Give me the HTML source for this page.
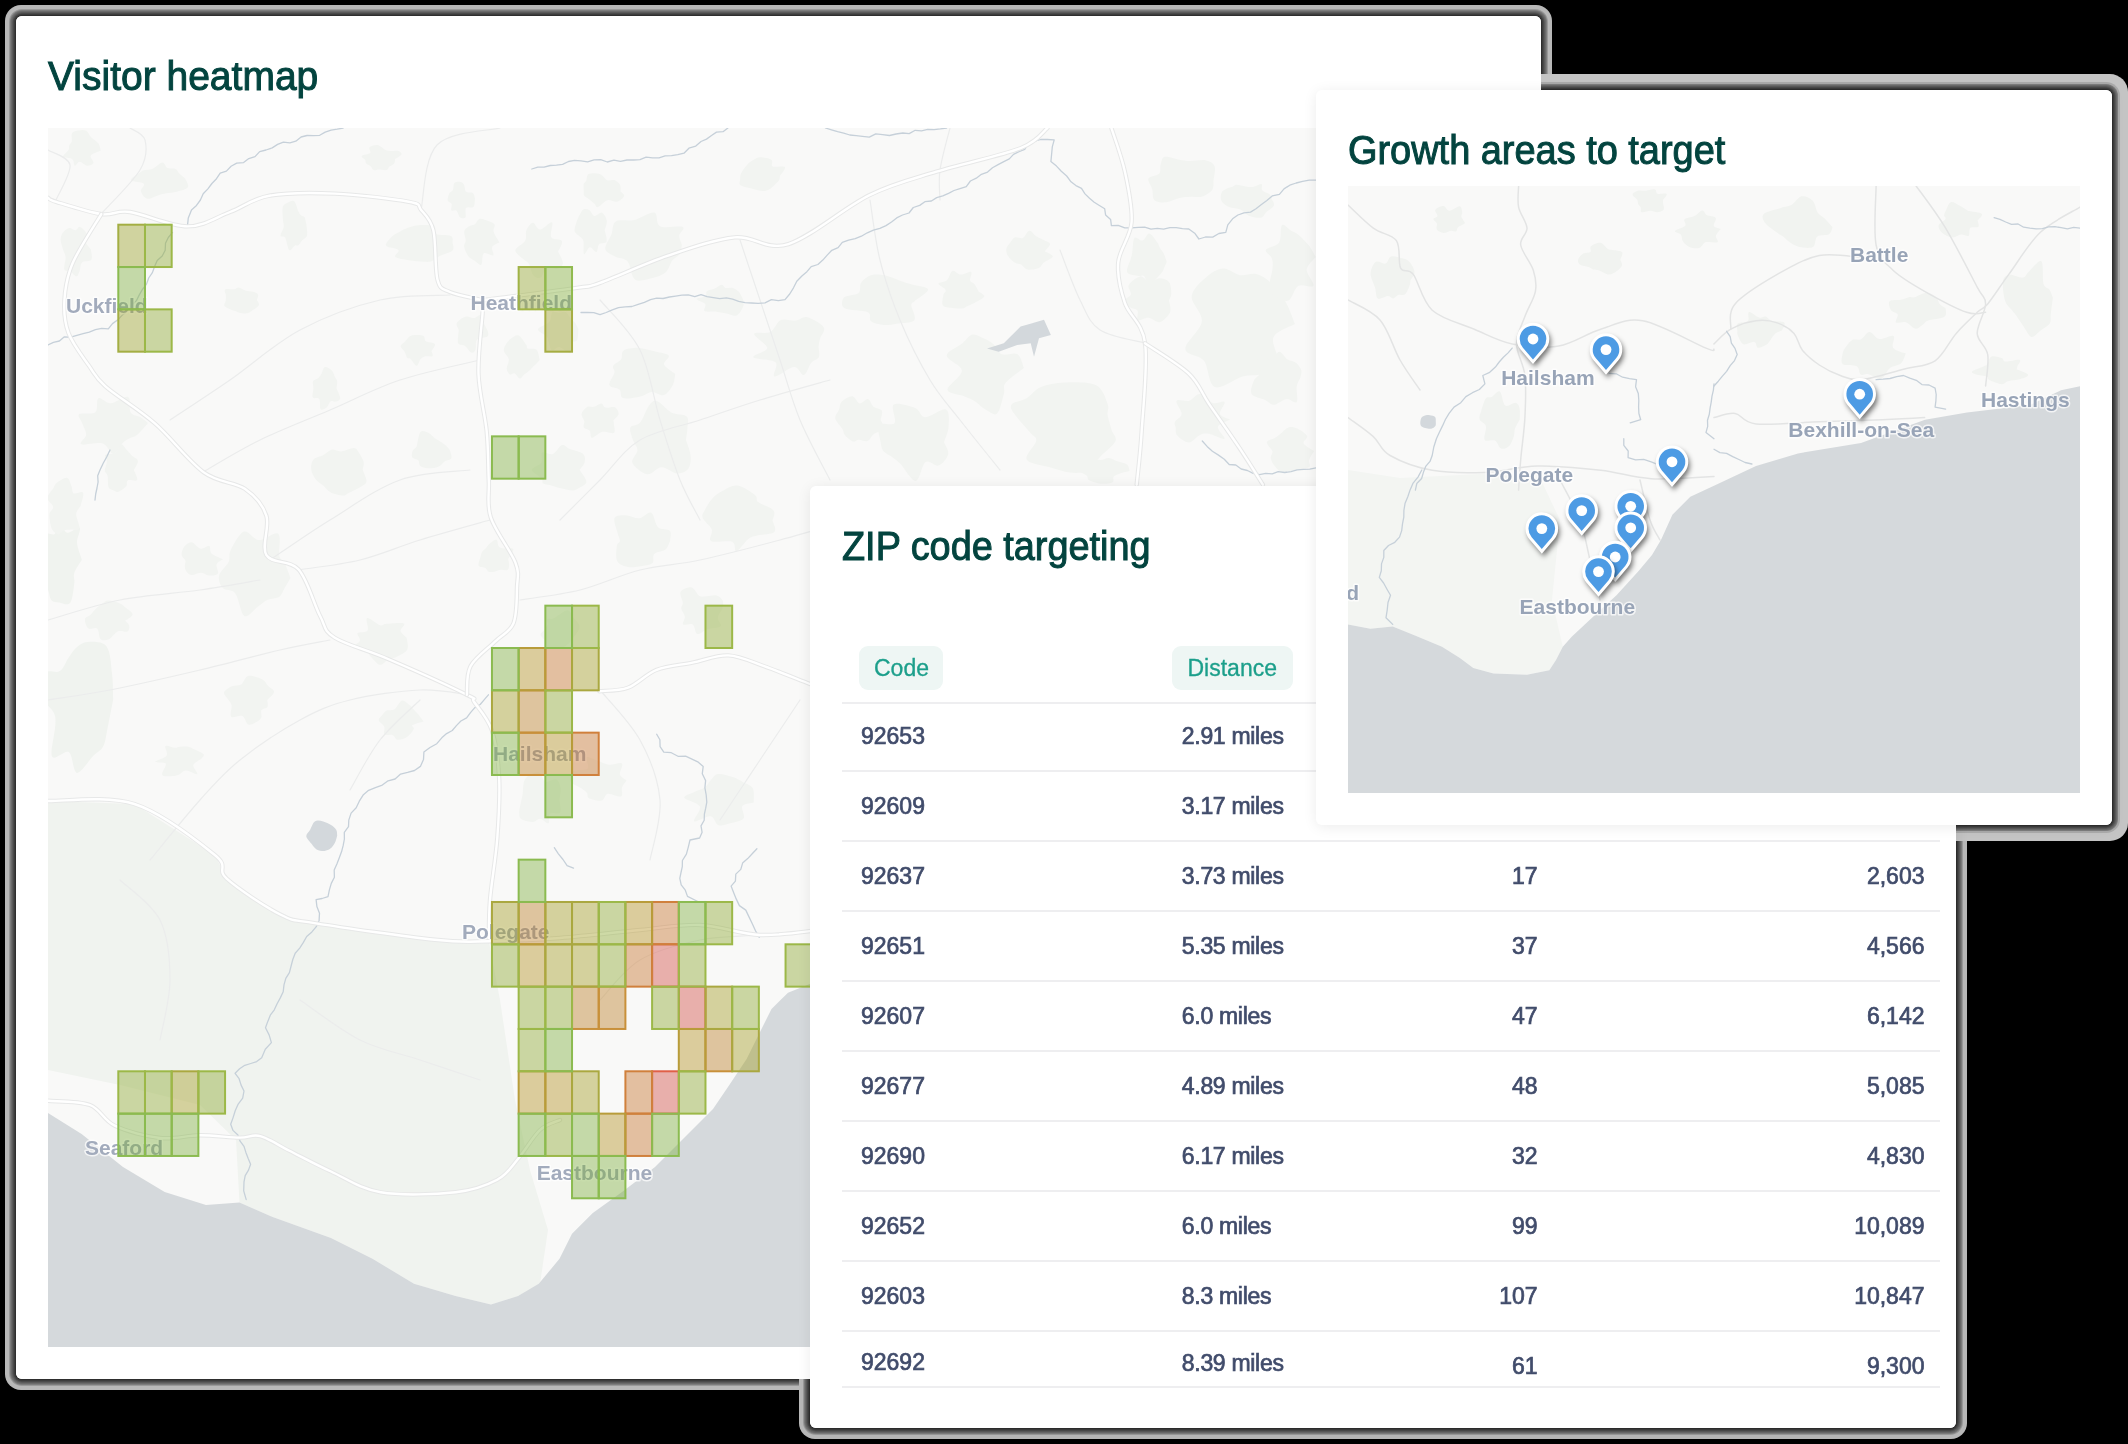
<!DOCTYPE html>
<html><head><meta charset="utf-8">
<style>
*{box-sizing:border-box;margin:0;padding:0}
html,body{width:2128px;height:1444px;overflow:hidden;background:#000}
body{position:relative;font-family:"Liberation Sans",sans-serif}
.ring{position:absolute;border-radius:6px;background:#fff}
.card{position:absolute;background:#fff;border-radius:6px;overflow:hidden;will-change:transform}
.title{position:absolute;font-size:40px;color:#03443f;white-space:nowrap;line-height:1;-webkit-text-stroke:1px #03443f}
.map{position:absolute;display:block}
.t{position:absolute;font-size:23px;color:#414c6b;white-space:nowrap;line-height:1;-webkit-text-stroke:0.7px #414c6b}
.r{text-align:right}
.hl{position:absolute;height:2px;background:#eeeef0}
.pill{position:absolute;background:#eef6f4;border-radius:9px;color:#1c9f8b;font-size:23px;line-height:1}
.lb,.lb1{font-family:"Liberation Sans",sans-serif;font-weight:bold;font-size:21px;fill:#95a1b5;stroke:#fff;stroke-width:3px;stroke-opacity:0.7;paint-order:stroke;stroke-linejoin:round}.lb1{fill:#a2abbc}.lb{fill:#98a4b7}
</style></head>
<body>
<!-- outer shadow rings (only visible over black) -->
<div class="ring" style="left:16px;top:16px;width:1525px;height:1363px;box-shadow:0 0 0 1px #2e2e2e,0 0 0 2px #3c3c3c,0 0 0 3px #4a4a4a,0 0 0 4px #5a5a5a,0 0 0 5px #6a6a6a,0 0 0 6px #7c7c7c,0 0 0 7px #999,0 0 0 11px #b8b8b8"></div>
<div class="ring" style="left:810px;top:486px;width:1146px;height:942px;box-shadow:0 0 0 1px #2e2e2e,0 0 0 2px #3c3c3c,0 0 0 3px #4a4a4a,0 0 0 4px #5a5a5a,0 0 0 5px #6a6a6a,0 0 0 6px #7c7c7c,0 0 0 7px #999,0 0 0 11px #b8b8b8"></div>
<div class="ring" style="left:1316px;top:90px;width:796px;height:735px;box-shadow:0 0 0 1px #2e2e2e,0 0 0 2px #3c3c3c,0 0 0 3px #4a4a4a,0 0 0 4px #5a5a5a,0 0 0 5px #6a6a6a,0 0 0 6px #7c7c7c,0 0 0 8px #aaa,0 0 0 16px #c4c4c4"></div>

<!-- CARD 1 -->
<div class="card" style="left:16px;top:16px;width:1525px;height:1363px">
  <div class="title" style="left:32px;top:40px;transform:scaleX(0.975);transform-origin:0 0">Visitor heatmap</div>
  <svg class="map" style="left:32px;top:112px" width="1461" height="1219" viewBox="48 128 1461 1219" id="map1">
    <rect x="48" y="128" width="1461" height="1219" fill="#f9f9f8"/>
    <path d="M48,801 L134.4,804 L214.8,855 L226.7,878.7 L280.3,914.5 L316,923.4 L435,939.8 L488.9,941.3 L500,1000 L515,1100 L530,1170 L548,1230 L540,1283.7 L518,1296 L491,1304.5 L455.6,1296 L414,1283.7 L372.5,1258.7 L331,1238 L272.7,1217 L239.5,1202.6 L236,1140 L200,1105 L120,1085 L48,1070 Z" fill="#f0f3ef"/>
<path d="M113.2,699.4 C112.3,704.1 109.2,720.1 107.6,727.9 C105.9,735.7 105.7,741.5 103.3,746.2 C100.8,750.9 97.5,751.6 93.1,756.1 C88.7,760.5 81.0,773.5 77.0,772.9 C72.9,772.2 73.0,754.9 68.8,752.1 C64.6,749.3 54.2,762.1 51.9,756.1 C49.6,750.0 57.7,726.2 54.9,715.6 C52.0,705.0 36.4,699.5 34.7,692.4 C33.1,685.2 40.7,676.3 44.9,672.8 C49.0,669.2 55.9,673.6 59.8,671.1 C63.8,668.6 65.8,661.7 68.6,657.8 C71.3,653.9 73.0,650.3 76.2,647.7 C79.4,645.1 82.7,642.2 87.8,642.0 C92.9,641.8 102.6,641.1 106.6,646.5 C110.7,651.9 111.0,665.7 112.1,674.5 C113.2,683.3 113.0,695.2 113.2,699.4 Z" fill="#f0f3ef"/>
<path d="M81.9,559.8 C80.6,562.0 75.6,569.0 74.3,573.0 C73.0,576.9 75.0,578.5 74.3,583.5 C73.6,588.5 72.6,599.8 70.1,603.0 C67.5,606.1 62.3,602.8 59.2,602.4 C56.1,602.0 53.3,602.5 51.4,600.3 C49.4,598.1 49.6,592.2 47.4,589.1 C45.1,586.1 39.6,586.2 37.7,582.1 C35.9,577.9 36.1,570.1 36.3,564.2 C36.4,558.3 37.1,551.5 38.8,546.5 C40.5,541.5 43.5,536.5 46.2,534.2 C49.0,532.0 53.5,537.0 55.5,533.0 C57.4,529.0 56.1,510.4 57.8,510.2 C59.5,510.1 62.2,529.2 65.8,532.1 C69.4,535.1 77.7,526.0 79.6,527.8 C81.5,529.6 76.6,537.4 77.0,542.7 C77.4,548.0 81.1,556.9 81.9,559.8 Z" fill="#f0f3ef"/>
<path d="M306.4,224.6 C306.5,226.5 307.7,233.1 307.0,235.7 C306.3,238.3 303.7,238.6 302.3,240.2 C300.8,241.8 299.5,244.4 298.3,245.3 C297.1,246.1 296.6,244.6 295.0,245.4 C293.5,246.2 290.8,251.4 289.2,250.1 C287.6,248.7 286.6,239.9 285.1,237.6 C283.7,235.2 280.7,237.5 280.5,235.7 C280.3,233.9 283.3,229.6 283.7,227.0 C284.1,224.4 283.2,223.4 283.0,220.1 C282.8,216.9 282.1,210.3 282.7,207.5 C283.4,204.6 285.0,204.1 286.9,203.1 C288.8,202.0 292.2,199.7 294.2,201.2 C296.1,202.6 297.3,209.3 298.5,211.7 C299.7,214.1 300.2,214.5 301.2,215.4 C302.2,216.3 303.7,215.6 304.6,217.2 C305.4,218.7 306.1,223.4 306.4,224.6 Z" fill="#f2f4f1"/>
<path d="M336.5,388.2 C337.1,389.9 340.3,396.1 340.2,398.3 C340.1,400.5 337.6,401.1 336.0,401.6 C334.4,402.1 332.2,400.2 330.6,401.2 C329.1,402.2 328.3,406.3 326.6,407.6 C324.9,409.0 321.8,410.8 320.6,409.3 C319.4,407.9 320.6,401.0 319.3,399.0 C318.0,397.0 313.7,399.1 312.8,397.4 C311.8,395.6 313.4,391.1 313.4,388.5 C313.5,385.8 312.2,383.1 313.0,381.3 C313.9,379.6 317.0,379.2 318.4,377.9 C319.8,376.7 320.5,375.5 321.5,373.7 C322.6,371.9 323.1,367.6 324.8,367.0 C326.5,366.5 330.1,368.7 331.8,370.4 C333.6,372.1 334.2,375.5 335.1,377.3 C336.0,379.1 336.9,379.4 337.2,381.2 C337.4,383.0 336.6,387.1 336.5,388.2 Z" fill="#f2f4f1"/>
<path d="M452.6,242.7 C452.6,244.0 454.7,248.2 452.6,250.4 C450.5,252.6 443.5,254.0 440.1,255.8 C436.6,257.6 434.8,260.1 432.1,261.1 C429.4,262.1 427.6,262.0 423.7,261.8 C419.9,261.7 413.6,261.1 408.9,260.3 C404.2,259.5 397.1,258.8 395.4,257.1 C393.6,255.4 399.9,251.9 398.4,250.0 C396.8,248.0 387.0,247.9 386.0,245.6 C385.0,243.3 390.0,238.5 392.3,236.2 C394.6,233.9 397.2,233.1 399.8,231.7 C402.4,230.3 404.8,228.9 407.9,227.8 C411.1,226.8 414.4,225.4 418.7,225.2 C423.1,224.9 431.4,224.8 434.3,226.3 C437.1,227.8 433.2,232.5 436.0,234.1 C438.8,235.7 448.2,234.5 451.0,235.9 C453.8,237.3 452.3,241.5 452.6,242.7 Z" fill="#f2f4f1"/>
<path d="M431.5,351.2 C431.7,352.0 433.6,355.3 432.5,356.2 C431.4,357.0 426.9,355.9 424.9,356.4 C422.9,356.9 421.9,357.6 420.5,359.2 C419.1,360.8 418.1,365.9 416.5,365.8 C414.8,365.7 412.0,360.1 410.4,358.8 C408.9,357.5 408.3,359.1 407.4,358.1 C406.5,357.2 405.8,354.2 405.2,352.9 C404.6,351.7 404.6,351.7 403.8,350.5 C403.0,349.4 400.4,347.4 400.6,345.9 C400.7,344.5 403.1,343.6 404.6,342.0 C406.2,340.4 408.0,337.5 409.8,336.3 C411.7,335.2 413.4,335.1 415.7,335.0 C418.0,334.9 421.9,334.9 423.6,335.9 C425.3,337.0 424.0,339.9 425.9,341.3 C427.8,342.6 433.9,342.4 434.9,344.0 C435.8,345.7 432.1,350.0 431.5,351.2 Z" fill="#f2f4f1"/>
<path d="M499.5,242.2 C498.3,243.1 493.2,244.9 492.1,247.1 C491.1,249.3 494.6,254.4 493.2,255.4 C491.8,256.5 485.7,251.9 483.7,253.4 C481.7,255.0 482.8,263.5 481.3,264.7 C479.8,265.9 476.8,262.2 474.6,260.8 C472.4,259.3 469.9,258.3 468.1,255.9 C466.4,253.5 464.5,249.2 464.1,246.6 C463.7,244.0 465.7,242.9 465.7,240.4 C465.7,237.8 463.7,233.6 464.2,231.3 C464.7,228.9 466.9,227.6 468.7,226.4 C470.5,225.2 473.2,225.4 474.9,224.2 C476.6,223.0 477.2,219.9 478.9,219.2 C480.7,218.5 482.6,219.0 485.2,219.9 C487.8,220.7 492.9,222.1 494.3,224.1 C495.8,226.1 492.9,228.9 493.7,231.9 C494.6,234.9 498.5,240.5 499.5,242.2 Z" fill="#f2f4f1"/>
<path d="M558.1,251.6 C558.9,253.6 563.1,260.4 562.9,263.3 C562.7,266.2 559.7,268.3 557.0,268.9 C554.3,269.6 549.3,266.0 546.6,267.4 C543.9,268.9 543.0,276.4 540.7,277.6 C538.4,278.9 535.0,277.2 533.1,274.9 C531.1,272.7 530.7,266.7 529.0,264.0 C527.3,261.3 525.1,261.1 522.9,258.8 C520.6,256.6 515.1,253.2 515.4,250.2 C515.8,247.2 523.3,244.1 525.1,240.8 C527.0,237.5 525.1,233.2 526.4,230.2 C527.8,227.2 530.7,222.8 532.9,222.7 C535.2,222.6 536.9,229.7 540.1,229.6 C543.3,229.5 550.1,221.0 552.0,222.3 C553.8,223.6 549.5,234.1 551.2,237.3 C552.8,240.4 560.8,238.6 561.9,241.0 C563.1,243.4 558.8,249.9 558.1,251.6 Z" fill="#f2f4f1"/>
<path d="M487.8,330.9 C487.8,331.8 489.2,335.0 487.4,336.5 C485.6,338.0 479.0,337.5 477.0,339.7 C475.0,341.9 476.5,347.5 475.5,349.7 C474.6,351.8 472.9,353.2 471.2,352.5 C469.4,351.9 467.1,347.5 465.0,346.0 C462.9,344.4 459.4,345.2 458.3,343.4 C457.2,341.6 458.2,337.4 458.2,335.1 C458.3,332.9 459.0,331.9 458.7,330.0 C458.4,328.2 456.3,325.8 456.5,324.0 C456.7,322.3 458.4,320.9 460.0,319.7 C461.6,318.4 464.6,317.0 466.2,316.6 C467.9,316.2 468.5,317.1 469.9,317.3 C471.3,317.5 472.8,318.3 474.7,317.9 C476.5,317.5 479.4,314.0 480.9,314.8 C482.4,315.7 482.5,320.2 483.7,322.9 C484.8,325.5 487.2,329.6 487.8,330.9 Z" fill="#f2f4f1"/>
<path d="M578.4,328.9 C578.2,330.8 578.3,338.0 577.0,340.2 C575.8,342.5 572.2,340.3 571.1,342.5 C569.9,344.6 572.2,352.5 570.3,353.2 C568.3,354.0 562.3,347.4 559.2,347.0 C556.2,346.5 553.9,351.6 552.1,350.6 C550.3,349.7 549.2,343.5 548.4,341.2 C547.5,338.9 548.7,338.7 547.0,336.8 C545.3,334.8 537.9,331.8 537.9,329.6 C538.0,327.3 545.4,325.0 547.5,323.3 C549.6,321.7 549.7,321.6 550.5,319.7 C551.3,317.9 550.8,313.3 552.2,312.2 C553.6,311.0 556.7,312.8 558.9,312.8 C561.2,312.8 563.6,311.0 565.6,312.0 C567.7,313.1 569.6,317.1 571.2,319.0 C572.8,320.8 574.2,321.5 575.4,323.2 C576.6,324.9 577.9,328.0 578.4,328.9 Z" fill="#f2f4f1"/>
<path d="M148.0,422.9 C146.2,424.9 139.9,432.5 136.9,435.1 C133.9,437.7 132.2,437.0 129.8,438.2 C127.5,439.5 125.6,440.0 122.9,442.7 C120.1,445.3 116.6,453.9 113.3,454.0 C109.9,454.2 108.1,445.1 102.7,443.5 C97.4,441.9 83.9,445.8 81.2,444.3 C78.4,442.9 86.0,438.3 86.2,434.8 C86.3,431.2 83.1,426.2 82.0,422.8 C80.8,419.4 77.0,415.9 79.2,414.1 C81.4,412.4 92.1,414.9 95.3,412.2 C98.5,409.5 95.8,399.7 98.4,398.2 C100.9,396.7 105.7,403.4 110.7,403.2 C115.7,403.0 124.8,395.4 128.1,396.9 C131.4,398.4 128.6,409.0 130.6,412.4 C132.7,415.7 137.3,415.3 140.2,417.0 C143.1,418.8 146.7,421.9 148.0,422.9 Z" fill="#f2f4f1"/>
<path d="M80.6,506.0 C79.9,507.3 76.4,510.4 76.2,514.1 C76.0,517.9 80.3,526.1 79.4,528.6 C78.5,531.2 73.6,529.3 71.0,529.5 C68.5,529.8 66.2,529.5 64.1,530.3 C62.0,531.0 60.5,534.3 58.4,534.2 C56.4,534.0 53.5,532.5 52.0,529.3 C50.5,526.0 49.2,518.4 49.4,514.7 C49.5,511.0 53.5,509.7 53.2,506.9 C52.8,504.2 47.3,501.2 47.4,498.0 C47.4,494.9 51.8,490.5 53.4,488.0 C55.0,485.4 54.6,484.4 56.9,482.7 C59.1,481.0 64.5,477.3 66.9,477.8 C69.3,478.3 70.2,483.3 71.4,485.9 C72.5,488.5 71.9,492.2 73.8,493.4 C75.8,494.5 82.0,490.6 83.1,492.7 C84.3,494.8 81.0,503.8 80.6,506.0 Z" fill="#f2f4f1"/>
<path d="M290.5,577.9 C289.4,579.7 286.3,585.3 284.4,588.5 C282.5,591.6 282.0,595.0 279.1,596.9 C276.2,598.8 270.6,598.2 267.1,599.9 C263.5,601.5 261.3,604.4 257.5,607.0 C253.7,609.7 248.0,618.2 244.3,615.9 C240.6,613.6 238.9,598.0 235.3,593.4 C231.7,588.8 225.5,591.1 222.8,588.1 C220.1,585.1 218.1,579.9 219.1,575.6 C220.0,571.2 226.6,566.4 228.6,562.1 C230.5,557.9 228.2,555.2 230.7,550.1 C233.3,545.1 239.2,533.3 243.9,531.6 C248.6,529.9 253.2,539.6 258.9,540.0 C264.7,540.3 274.8,531.1 278.2,533.8 C281.6,536.4 278.2,551.0 279.3,555.9 C280.4,560.7 282.8,559.3 284.6,563.0 C286.5,566.7 289.5,575.4 290.5,577.9 Z" fill="#f2f4f1"/>
<path d="M508.2,558.9 C508.4,560.0 509.3,563.5 509.1,565.4 C509.0,567.2 508.7,569.1 507.4,569.9 C506.0,570.6 502.8,569.5 500.8,569.7 C498.8,570.0 497.2,571.0 495.2,571.4 C493.2,571.8 490.3,572.4 488.7,571.8 C487.1,571.3 487.1,569.0 485.4,568.0 C483.8,567.0 479.5,567.7 478.7,565.8 C477.9,564.0 479.9,559.2 480.5,556.8 C481.1,554.5 481.3,553.3 482.2,551.8 C483.1,550.3 484.8,549.3 486.0,548.0 C487.2,546.7 487.7,545.4 489.4,544.0 C491.1,542.6 494.8,539.1 496.4,539.5 C497.9,540.0 497.4,544.9 498.8,546.4 C500.1,547.9 501.9,548.1 504.3,548.5 C506.7,549.0 512.7,547.5 513.3,549.2 C514.0,551.0 509.1,557.3 508.2,558.9 Z" fill="#f2f4f1"/>
<path d="M675.2,373.9 C674.8,375.7 674.7,381.4 672.8,384.9 C670.9,388.4 667.4,393.9 663.9,395.0 C660.4,396.2 655.8,391.7 651.8,391.9 C647.9,392.1 645.1,395.4 640.3,396.4 C635.5,397.5 626.5,399.3 623.0,398.1 C619.6,397.0 621.8,391.7 619.5,389.6 C617.2,387.4 610.2,387.9 609.4,385.0 C608.5,382.2 613.9,375.6 614.5,372.4 C615.1,369.2 612.0,368.1 613.1,365.9 C614.2,363.7 619.4,361.8 621.1,359.2 C622.9,356.7 620.7,352.3 623.7,350.5 C626.6,348.6 633.4,347.7 638.7,347.9 C643.9,348.1 650.3,350.3 655.3,351.6 C660.4,352.9 667.4,353.5 668.8,355.7 C670.3,357.8 663.0,361.6 664.0,364.6 C665.1,367.6 673.3,372.4 675.2,373.9 Z" fill="#f2f4f1"/>
<path d="M1023.9,367.9 C1020.8,370.4 1008.9,378.5 1005.6,382.8 C1002.3,387.1 1005.3,388.6 1003.9,393.7 C1002.5,398.8 1000.0,410.7 997.1,413.5 C994.1,416.2 990.1,412.2 986.3,410.1 C982.6,408.0 978.1,403.2 974.4,400.9 C970.7,398.6 968.6,398.0 964.1,396.2 C959.6,394.3 947.9,394.0 947.5,389.8 C947.2,385.6 962.0,376.5 961.9,370.8 C961.8,365.1 946.6,360.2 946.7,355.6 C946.7,351.1 957.9,347.0 962.2,343.5 C966.5,340.0 968.9,335.5 972.4,334.6 C975.8,333.7 979.4,336.5 983.0,338.1 C986.6,339.7 990.7,341.7 993.9,344.4 C997.1,347.1 998.0,352.7 1001.9,354.3 C1005.8,356.0 1013.7,351.9 1017.3,354.1 C1021.0,356.4 1022.8,365.6 1023.9,367.9 Z" fill="#f2f4f1"/>
<path d="M818.5,347.0 C818.5,348.7 820.1,354.3 818.9,356.9 C817.7,359.6 813.9,359.7 811.3,362.7 C808.8,365.7 806.7,374.4 803.8,375.0 C801.0,375.7 798.9,366.7 794.0,366.9 C789.1,367.1 777.6,377.2 774.5,376.4 C771.4,375.6 779.0,365.5 775.5,362.3 C771.9,359.1 754.6,359.6 753.3,357.3 C751.9,354.9 767.1,352.0 767.3,348.1 C767.4,344.3 753.6,336.6 754.1,333.9 C754.6,331.2 765.8,334.3 770.2,332.0 C774.7,329.7 776.6,321.9 780.9,320.0 C785.2,318.2 791.6,321.1 796.0,320.6 C800.4,320.2 802.6,316.2 807.2,317.3 C811.8,318.4 821.6,323.8 823.7,327.3 C825.8,330.9 820.9,335.4 820.0,338.7 C819.1,341.9 818.7,345.6 818.5,347.0 Z" fill="#f2f4f1"/>
<path d="M914.4,301.4 C913.8,302.1 911.3,302.2 911.3,305.3 C911.3,308.5 916.8,317.1 914.3,320.2 C911.9,323.3 901.6,322.9 896.6,323.7 C891.5,324.5 888.1,325.3 883.9,324.9 C879.6,324.5 873.6,323.4 871.0,321.3 C868.3,319.2 872.3,314.4 867.9,312.3 C863.5,310.1 848.6,310.7 844.6,308.3 C840.6,305.9 841.7,300.2 844.0,297.6 C846.3,295.0 855.8,295.3 858.6,292.9 C861.5,290.4 858.9,285.7 861.1,282.7 C863.3,279.8 867.4,276.3 871.8,275.1 C876.2,274.0 882.5,274.9 887.2,275.9 C891.9,276.8 895.9,279.3 900.1,280.7 C904.2,282.2 907.2,283.1 911.9,284.6 C916.6,286.1 927.7,286.8 928.1,289.6 C928.5,292.4 916.6,299.5 914.4,301.4 Z" fill="#f2f4f1"/>
<path d="M1295.0,324.1 C1291.4,326.4 1275.6,330.3 1273.2,337.9 C1270.9,345.5 1283.0,363.7 1280.8,369.9 C1278.5,376.0 1266.3,373.7 1259.9,374.8 C1253.5,375.9 1250.0,374.6 1242.5,376.6 C1235.0,378.7 1221.2,389.8 1214.8,387.1 C1208.3,384.4 1208.7,367.0 1203.8,360.6 C1198.9,354.2 1185.7,355.4 1185.4,348.9 C1185.0,342.4 1200.8,330.4 1201.8,321.6 C1202.9,312.8 1190.8,303.7 1191.7,296.2 C1192.5,288.7 1201.7,281.2 1207.0,276.5 C1212.3,271.9 1217.9,268.6 1223.4,268.4 C1228.8,268.1 1234.5,274.2 1239.9,275.2 C1245.4,276.1 1250.9,272.9 1256.1,274.1 C1261.3,275.4 1266.2,278.4 1271.0,282.9 C1275.8,287.3 1281.1,294.1 1285.1,300.9 C1289.1,307.8 1293.4,320.2 1295.0,324.1 Z" fill="#f2f4f1"/>
<path d="M681.9,244.9 C681.5,246.4 681.2,251.3 679.6,253.9 C678.0,256.5 674.5,257.5 672.2,260.5 C669.9,263.6 669.2,269.2 665.7,272.2 C662.2,275.1 656.6,277.1 651.4,278.3 C646.3,279.5 638.8,282.2 634.9,279.4 C630.9,276.6 631.0,265.4 627.7,261.6 C624.4,257.7 618.8,258.6 615.1,256.5 C611.4,254.4 605.9,252.7 605.3,249.0 C604.7,245.3 609.7,238.9 611.5,234.3 C613.2,229.7 612.0,223.8 615.8,221.4 C619.6,219.1 627.7,221.6 634.1,220.1 C640.5,218.7 650.0,211.6 654.3,212.6 C658.6,213.6 655.1,223.8 659.9,226.2 C664.6,228.6 679.5,225.5 682.7,227.1 C685.9,228.6 679.3,232.5 679.2,235.5 C679.0,238.4 681.4,243.3 681.9,244.9 Z" fill="#f2f4f1"/>
<path d="M1112.1,431.4 C1112.6,433.0 1117.3,437.1 1115.4,441.3 C1113.5,445.4 1105.4,451.4 1100.7,456.3 C1096.0,461.1 1092.3,467.8 1087.2,470.5 C1082.1,473.2 1076.2,473.2 1069.9,472.6 C1063.6,472.0 1056.4,469.3 1049.2,467.1 C1042.0,464.9 1028.8,463.8 1026.7,459.4 C1024.5,455.0 1035.7,445.3 1036.2,440.7 C1036.6,436.1 1033.8,437.4 1029.5,431.8 C1025.3,426.2 1011.3,412.6 1010.8,407.0 C1010.3,401.4 1021.5,401.5 1026.6,398.2 C1031.6,394.9 1034.6,389.7 1041.0,387.1 C1047.3,384.5 1055.4,382.8 1064.6,382.5 C1073.8,382.1 1088.9,381.7 1096.1,385.3 C1103.2,388.8 1105.7,399.0 1107.6,404.0 C1109.5,408.9 1106.9,410.5 1107.6,415.1 C1108.4,419.7 1111.3,428.7 1112.1,431.4 Z" fill="#f2f4f1"/>
<path d="M944.0,442.2 C944.7,444.2 949.1,450.3 948.2,454.2 C947.3,458.1 942.4,464.2 938.6,465.5 C934.9,466.8 929.5,459.4 925.6,462.0 C921.8,464.5 919.8,480.6 915.7,480.9 C911.5,481.2 904.4,467.9 900.5,464.0 C896.7,460.1 895.5,459.7 892.7,457.5 C889.8,455.3 885.4,453.8 883.4,451.1 C881.4,448.4 881.3,445.9 880.5,441.5 C879.8,437.1 876.6,428.0 878.9,424.9 C881.3,421.9 892.1,426.3 894.6,423.0 C897.0,419.6 890.3,407.1 893.8,404.6 C897.2,402.2 909.9,406.0 915.1,408.1 C920.4,410.2 920.0,417.0 925.1,417.2 C930.2,417.5 942.0,407.9 945.9,409.5 C949.8,411.1 948.9,421.3 948.6,426.8 C948.3,432.2 944.8,439.6 944.0,442.2 Z" fill="#f2f4f1"/>
<path d="M686.0,440.1 C686.8,442.7 690.3,451.2 690.6,456.1 C691.0,460.9 690.3,466.2 688.1,469.1 C685.8,472.0 681.6,473.8 677.2,473.5 C672.8,473.1 666.5,467.0 661.5,467.2 C656.5,467.3 652.1,475.0 647.2,474.3 C642.4,473.6 634.1,467.1 632.4,463.1 C630.8,459.1 637.2,454.0 637.4,450.4 C637.6,446.7 634.6,444.9 633.4,441.1 C632.3,437.4 629.2,430.7 630.3,427.7 C631.4,424.6 636.9,426.4 639.9,422.8 C643.0,419.2 646.0,409.5 648.8,405.9 C651.6,402.3 653.1,400.0 656.8,401.1 C660.6,402.2 666.1,409.8 671.1,412.4 C676.1,414.9 684.0,413.7 686.7,416.4 C689.4,419.0 687.5,424.3 687.4,428.3 C687.2,432.2 686.2,438.1 686.0,440.1 Z" fill="#f2f4f1"/>
<path d="M185.1,178.6 C185.6,180.1 189.3,185.1 187.9,187.3 C186.5,189.5 180.4,190.7 176.8,191.7 C173.2,192.7 169.3,192.7 166.3,193.3 C163.2,193.9 161.6,194.3 158.4,195.2 C155.2,196.1 150.2,199.3 147.2,198.7 C144.3,198.0 141.5,193.8 140.9,191.3 C140.3,188.8 145.5,185.6 143.8,183.7 C142.1,181.9 131.6,182.0 130.8,180.3 C130.0,178.5 136.8,175.0 139.0,173.3 C141.1,171.7 141.5,171.1 143.8,170.3 C146.1,169.5 149.6,170.0 152.7,168.7 C155.8,167.4 159.8,162.8 162.3,162.6 C164.8,162.5 165.3,167.0 167.5,168.1 C169.7,169.1 173.5,168.0 175.5,168.9 C177.5,169.8 177.7,171.9 179.3,173.6 C180.9,175.2 184.2,177.8 185.1,178.6 Z" fill="#f2f4f1"/>
<path d="M256.9,300.0 C257.3,300.9 259.6,303.5 258.9,305.2 C258.1,306.9 254.4,308.9 252.5,310.3 C250.6,311.6 249.7,312.9 247.5,313.3 C245.3,313.7 241.3,313.0 239.2,312.7 C237.2,312.3 237.2,311.9 235.2,311.1 C233.2,310.3 229.1,308.9 227.2,307.9 C225.4,306.9 224.5,306.4 224.2,305.2 C224.0,304.0 225.4,302.5 225.7,300.8 C225.9,299.0 225.9,296.8 225.8,294.9 C225.7,293.0 223.8,290.3 225.1,289.4 C226.5,288.4 231.9,289.6 234.1,289.2 C236.4,288.9 236.7,287.2 238.6,287.4 C240.5,287.5 242.9,289.6 245.3,290.4 C247.7,291.1 251.0,291.0 253.2,291.7 C255.3,292.4 257.4,293.1 258.0,294.5 C258.7,295.9 257.1,299.1 256.9,300.0 Z" fill="#f2f4f1"/>
<path d="M395.0,159.2 C394.9,159.9 395.2,162.1 394.2,163.4 C393.3,164.6 390.6,165.5 389.4,166.6 C388.1,167.7 388.5,169.5 386.8,170.0 C385.0,170.5 381.1,169.5 378.9,169.5 C376.7,169.5 375.0,170.7 373.7,170.1 C372.3,169.6 371.9,167.3 370.6,166.2 C369.4,165.2 367.1,164.6 366.2,163.6 C365.3,162.5 365.9,161.1 365.2,159.8 C364.4,158.6 361.0,157.1 361.8,155.9 C362.7,154.8 368.9,154.5 370.2,153.1 C371.5,151.7 368.3,148.7 369.5,147.4 C370.7,146.1 374.7,144.6 377.6,145.1 C380.5,145.6 383.5,149.6 386.8,150.5 C390.1,151.5 395.0,150.2 397.5,150.8 C399.9,151.4 401.9,152.8 401.5,154.2 C401.1,155.6 396.1,158.4 395.0,159.2 Z" fill="#f2f4f1"/>
<path d="M620.5,191.4 C621.1,192.1 624.8,194.2 624.2,195.9 C623.6,197.7 619.6,201.0 616.9,201.7 C614.1,202.4 610.7,199.3 607.5,200.2 C604.3,201.1 600.0,206.5 597.8,207.1 C595.6,207.6 595.8,205.0 594.2,203.6 C592.7,202.2 590.0,199.9 588.3,198.7 C586.7,197.4 584.9,197.1 584.2,195.8 C583.4,194.5 583.8,192.8 583.7,190.8 C583.7,188.9 583.3,185.8 583.7,184.1 C584.1,182.4 585.3,182.5 586.2,180.8 C587.0,179.2 586.4,175.2 588.7,174.1 C591.0,173.0 597.0,173.2 600.1,174.2 C603.1,175.2 604.9,179.3 607.2,180.3 C609.6,181.2 612.0,179.3 614.2,180.1 C616.3,180.9 619.0,183.0 620.1,184.9 C621.1,186.8 620.4,190.3 620.5,191.4 Z" fill="#f2f4f1"/>
<path d="M779.9,176.0 C779.8,176.7 779.9,179.1 779.0,180.6 C778.1,182.0 776.3,183.2 774.7,184.7 C773.1,186.2 771.3,188.3 769.3,189.3 C767.3,190.4 765.5,191.2 762.7,191.1 C759.8,191.0 756.0,189.7 752.3,188.7 C748.6,187.7 742.5,186.8 740.5,185.3 C738.5,183.7 740.2,180.9 740.2,179.2 C740.2,177.5 740.1,176.4 740.5,175.0 C740.9,173.6 741.5,172.3 742.6,170.7 C743.6,169.1 745.2,167.0 746.6,165.5 C748.0,163.9 748.9,162.7 751.1,161.3 C753.3,159.9 756.2,157.5 759.6,157.2 C763.0,157.0 769.2,158.2 771.4,159.7 C773.6,161.3 770.4,165.1 772.6,166.4 C774.9,167.6 783.7,165.6 784.9,167.2 C786.1,168.8 780.8,174.5 779.9,176.0 Z" fill="#f2f4f1"/>
<path d="M1213.5,180.4 C1213.3,181.9 1214.1,187.1 1212.3,189.8 C1210.4,192.5 1205.9,195.4 1202.4,196.6 C1198.9,197.8 1194.9,196.5 1191.1,196.8 C1187.3,197.0 1183.5,197.1 1179.4,198.1 C1175.3,199.0 1170.6,202.0 1166.4,202.3 C1162.3,202.7 1156.9,202.4 1154.5,200.2 C1152.1,198.0 1153.2,192.8 1152.2,189.2 C1151.2,185.6 1147.3,181.2 1148.5,178.6 C1149.6,176.0 1157.3,175.8 1159.3,173.5 C1161.3,171.2 1159.7,167.5 1160.6,164.7 C1161.5,161.9 1161.6,157.6 1164.7,156.8 C1167.9,155.9 1175.2,159.0 1179.5,159.7 C1183.7,160.4 1185.7,160.9 1190.0,161.0 C1194.3,161.1 1201.3,159.4 1205.4,160.2 C1209.5,161.1 1213.3,162.8 1214.6,166.2 C1216.0,169.6 1213.7,178.0 1213.5,180.4 Z" fill="#f2f4f1"/>
<path d="M1315.7,256.9 C1314.2,259.0 1307.1,264.8 1306.7,269.6 C1306.4,274.4 1314.8,283.1 1313.4,285.8 C1312.0,288.5 1302.5,283.4 1298.4,285.8 C1294.4,288.2 1292.2,298.3 1289.0,300.3 C1285.8,302.4 1282.7,299.9 1279.4,298.1 C1276.1,296.4 1270.3,294.9 1269.2,289.9 C1268.0,285.0 1272.1,273.9 1272.5,268.5 C1273.0,263.2 1272.8,261.1 1271.7,257.9 C1270.6,254.8 1264.7,252.3 1265.9,249.7 C1267.1,247.1 1276.4,246.5 1279.1,242.4 C1281.8,238.3 1279.9,227.2 1281.9,225.2 C1283.8,223.2 1288.3,229.0 1290.9,230.5 C1293.5,231.9 1295.3,232.3 1297.5,234.0 C1299.8,235.7 1302.5,238.6 1304.5,240.7 C1306.5,242.8 1307.8,243.9 1309.7,246.5 C1311.6,249.2 1314.7,255.2 1315.7,256.9 Z" fill="#f2f4f1"/>
<path d="M1166.8,261.8 C1166.4,262.7 1165.2,265.5 1164.4,267.2 C1163.6,268.9 1163.6,270.1 1162.2,272.1 C1160.8,274.1 1158.2,276.6 1156.1,279.1 C1153.9,281.6 1151.2,287.5 1149.2,287.1 C1147.3,286.6 1146.0,278.2 1144.2,276.3 C1142.4,274.5 1141.5,276.6 1138.6,275.9 C1135.8,275.3 1128.5,275.0 1127.2,272.2 C1125.9,269.3 1129.9,262.2 1130.7,259.0 C1131.6,255.8 1131.6,256.3 1132.2,252.8 C1132.8,249.3 1132.7,240.0 1134.5,237.9 C1136.2,235.9 1140.1,241.3 1142.6,240.5 C1145.1,239.8 1146.9,233.1 1149.3,233.4 C1151.8,233.8 1155.5,239.9 1157.3,242.4 C1159.1,244.9 1159.0,246.4 1160.1,248.3 C1161.1,250.1 1162.6,251.2 1163.7,253.4 C1164.9,255.7 1166.3,260.4 1166.8,261.8 Z" fill="#f2f4f1"/>
<path d="M743.4,300.3 C743.3,301.4 744.3,304.2 743.1,306.7 C742.0,309.2 739.3,314.4 736.6,315.5 C733.8,316.6 729.4,313.9 726.4,313.4 C723.5,312.9 721.1,312.6 719.0,312.2 C716.9,311.9 716.3,311.7 713.9,311.5 C711.5,311.3 705.9,312.3 704.5,311.1 C703.0,309.8 706.5,306.1 705.2,304.1 C703.9,302.1 696.4,300.5 696.5,299.1 C696.5,297.8 703.8,297.5 705.5,296.2 C707.3,294.8 705.4,292.4 706.9,291.2 C708.5,289.9 712.4,289.7 714.9,288.6 C717.3,287.6 719.9,284.9 721.7,284.8 C723.4,284.7 723.5,287.3 725.4,287.9 C727.2,288.4 730.6,287.2 732.8,287.9 C735.1,288.6 737.2,290.0 739.0,292.1 C740.7,294.1 742.6,298.9 743.4,300.3 Z" fill="#f2f4f1"/>
<path d="M133.8,470.1 C134.4,471.7 138.1,478.3 137.1,480.1 C136.1,481.8 129.6,479.3 127.8,480.4 C126.0,481.4 127.8,484.4 126.2,486.3 C124.6,488.2 120.5,491.1 118.3,491.8 C116.2,492.5 114.8,491.1 113.2,490.3 C111.5,489.5 109.4,489.3 108.5,486.9 C107.6,484.5 108.3,478.6 107.6,475.8 C107.0,473.1 104.9,472.9 104.8,470.5 C104.7,468.1 106.8,464.0 106.9,461.4 C107.0,458.8 103.9,456.3 105.3,454.9 C106.8,453.4 112.9,454.6 115.5,452.8 C118.0,451.1 119.1,444.8 120.9,444.3 C122.8,443.7 124.6,447.6 126.4,449.5 C128.2,451.4 129.8,453.7 131.8,455.6 C133.7,457.5 137.5,458.5 137.9,460.9 C138.2,463.3 134.5,468.5 133.8,470.1 Z" fill="#f2f4f1"/>
<path d="M223.2,559.3 C222.1,560.1 217.5,561.9 216.6,564.3 C215.7,566.7 219.2,571.8 217.9,573.7 C216.6,575.5 211.4,575.6 208.7,575.4 C205.9,575.3 204.2,572.9 201.3,572.8 C198.4,572.7 193.9,575.4 191.3,575.0 C188.8,574.6 186.8,572.1 185.8,570.4 C184.7,568.8 184.9,566.7 184.9,565.0 C184.8,563.4 186.0,562.3 185.4,560.6 C184.9,559.0 181.8,557.3 181.6,555.0 C181.4,552.7 182.5,549.0 184.1,546.8 C185.8,544.7 188.8,541.9 191.5,542.2 C194.3,542.5 197.7,548.1 200.7,548.7 C203.6,549.3 207.4,545.3 209.0,545.8 C210.7,546.2 209.8,549.9 210.5,551.4 C211.2,552.9 211.1,553.4 213.2,554.7 C215.4,556.0 221.6,558.5 223.2,559.3 Z" fill="#f2f4f1"/>
<path d="M362.7,469.7 C363.3,471.6 366.7,478.5 366.5,481.3 C366.2,484.1 364.3,484.5 361.3,486.4 C358.3,488.4 351.6,491.4 348.6,493.0 C345.5,494.5 346.0,495.8 342.9,495.6 C339.9,495.5 333.7,493.9 330.4,492.2 C327.2,490.6 325.9,487.9 323.5,485.7 C321.0,483.5 317.6,481.8 315.5,478.9 C313.4,476.1 311.4,472.0 311.1,468.7 C310.8,465.4 311.7,461.4 313.7,459.2 C315.7,456.9 320.2,456.8 323.1,455.2 C326.1,453.7 328.5,450.4 331.5,449.7 C334.5,449.1 337.6,451.7 341.3,451.4 C345.0,451.2 350.9,448.0 353.8,448.1 C356.7,448.3 357.1,450.1 358.7,452.4 C360.4,454.7 363.0,459.2 363.7,462.1 C364.3,464.9 362.8,468.4 362.7,469.7 Z" fill="#f2f4f1"/>
<path d="M449.8,450.0 C450.1,451.3 452.2,456.3 451.4,458.2 C450.6,460.1 447.2,459.8 445.0,461.2 C442.8,462.7 441.0,465.6 438.1,466.8 C435.3,468.0 430.9,468.5 427.9,468.3 C424.9,468.1 421.7,467.0 420.1,465.7 C418.5,464.4 419.6,461.7 418.3,460.3 C417.0,459.0 413.3,459.1 412.3,457.6 C411.4,456.0 411.9,452.8 412.6,451.0 C413.3,449.1 415.7,448.4 416.6,446.4 C417.5,444.5 417.3,441.9 418.0,439.4 C418.8,436.8 419.3,432.4 421.2,431.4 C423.0,430.4 426.9,432.1 429.1,433.3 C431.4,434.4 432.8,436.9 434.8,438.3 C436.8,439.7 439.1,440.6 441.0,441.9 C443.0,443.1 444.9,444.7 446.3,446.0 C447.8,447.4 449.2,449.3 449.8,450.0 Z" fill="#f2f4f1"/>
<path d="M579.7,469.9 C580.8,471.9 586.5,478.7 586.4,481.7 C586.4,484.7 581.6,486.3 579.4,487.8 C577.1,489.3 575.9,490.3 573.0,490.5 C570.1,490.6 565.2,489.4 561.7,488.6 C558.3,487.8 555.3,486.5 552.2,485.7 C549.2,484.9 545.1,484.9 543.3,483.6 C541.5,482.4 543.4,480.4 541.5,478.2 C539.6,475.9 531.9,472.5 531.8,469.9 C531.8,467.3 539.5,465.6 541.2,462.7 C542.9,459.8 540.2,454.0 542.2,452.5 C544.1,451.0 549.5,455.2 552.9,453.9 C556.2,452.7 559.4,445.8 562.2,445.0 C565.1,444.2 566.3,447.5 569.8,449.0 C573.2,450.4 580.5,451.6 583.0,453.8 C585.4,456.1 585.2,459.6 584.7,462.3 C584.1,464.9 580.5,468.7 579.7,469.9 Z" fill="#f2f4f1"/>
<path d="M670.1,540.9 C669.3,542.3 668.1,547.3 665.5,549.5 C662.9,551.7 656.4,551.7 654.3,553.9 C652.1,556.2 654.5,561.0 652.5,563.0 C650.5,565.0 646.2,565.2 642.1,565.9 C638.0,566.6 632.1,567.7 628.0,567.0 C623.8,566.2 619.2,564.8 617.3,561.3 C615.4,557.9 616.4,549.7 616.8,546.3 C617.2,542.9 619.8,543.0 619.9,540.8 C620.0,538.6 618.5,536.8 617.6,533.0 C616.7,529.2 613.1,521.0 614.6,518.1 C616.1,515.1 622.6,515.3 626.7,515.4 C630.8,515.4 635.2,518.7 639.3,518.3 C643.4,517.8 648.1,511.2 651.2,512.7 C654.3,514.2 654.9,524.2 658.0,527.2 C661.1,530.2 667.7,528.4 669.8,530.7 C671.8,533.0 670.0,539.2 670.1,540.9 Z" fill="#f2f4f1"/>
<path d="M772.5,520.4 C772.9,522.4 776.9,529.5 774.4,532.0 C772.0,534.5 762.4,534.1 758.0,535.3 C753.7,536.5 751.9,536.4 748.3,539.0 C744.7,541.7 739.1,550.8 736.4,551.3 C733.8,551.8 736.4,543.6 732.2,541.8 C728.0,540.1 714.5,543.0 711.1,540.9 C707.7,538.9 713.2,533.4 711.8,529.5 C710.4,525.7 703.9,521.1 702.7,517.9 C701.5,514.7 703.0,513.5 704.7,510.2 C706.3,506.9 709.6,501.4 712.6,498.2 C715.5,495.0 718.3,493.1 722.4,491.0 C726.6,488.8 732.0,484.9 737.5,485.6 C742.9,486.3 751.5,492.3 755.0,495.0 C758.4,497.8 755.1,499.6 758.1,502.1 C761.2,504.7 771.1,507.3 773.5,510.4 C775.9,513.4 772.7,518.8 772.5,520.4 Z" fill="#f2f4f1"/>
<path d="M722.6,608.4 C721.8,610.0 718.0,614.9 717.8,617.9 C717.5,620.9 722.6,624.5 720.8,626.3 C719.1,628.2 711.4,627.9 707.5,629.2 C703.5,630.5 699.8,634.8 697.3,634.0 C694.9,633.2 695.1,626.0 692.7,624.4 C690.4,622.8 684.4,625.8 683.1,624.5 C681.8,623.2 685.2,619.4 684.9,616.8 C684.6,614.1 681.6,610.9 681.2,608.5 C680.9,606.2 682.9,605.5 682.8,602.7 C682.7,599.9 679.1,594.4 680.6,591.8 C682.1,589.3 688.5,586.8 691.6,587.4 C694.7,588.1 696.9,594.4 699.4,595.9 C701.9,597.4 703.6,596.3 706.5,596.2 C709.3,596.1 713.9,594.6 716.6,595.4 C719.3,596.1 721.8,598.6 722.8,600.7 C723.8,602.9 722.7,607.1 722.6,608.4 Z" fill="#f2f4f1"/>
<path d="M579.4,629.0 C578.6,630.1 576.4,633.7 575.0,635.5 C573.6,637.4 572.2,638.9 571.1,640.3 C570.0,641.7 570.4,642.5 568.6,643.8 C566.9,645.1 564.1,647.4 560.7,648.1 C557.3,648.8 550.7,649.3 548.2,648.1 C545.6,646.9 546.7,643.0 545.4,640.8 C544.1,638.6 540.8,636.7 540.5,635.0 C540.1,633.4 542.2,632.7 543.4,631.0 C544.5,629.3 546.6,626.8 547.3,624.9 C548.0,622.9 546.3,620.3 547.3,619.3 C548.3,618.2 551.2,619.4 553.2,618.6 C555.2,617.9 556.6,616.1 559.1,614.8 C561.6,613.4 565.6,609.8 568.1,610.4 C570.6,610.9 572.2,615.9 574.1,618.3 C575.9,620.6 578.2,622.6 579.1,624.4 C580.0,626.2 579.3,628.3 579.4,629.0 Z" fill="#f2f4f1"/>
<path d="M406.7,637.8 C406.8,639.8 408.9,646.5 407.3,649.6 C405.7,652.8 400.0,655.1 396.9,656.8 C393.7,658.4 391.1,658.1 388.3,659.4 C385.5,660.7 382.8,665.2 379.8,664.7 C376.9,664.2 373.0,658.8 370.6,656.4 C368.2,654.0 368.5,651.6 365.5,650.2 C362.5,648.7 353.4,649.4 352.5,647.8 C351.6,646.2 359.1,643.2 359.9,640.8 C360.8,638.3 356.3,634.9 357.6,633.1 C358.9,631.4 366.0,632.9 367.6,630.4 C369.1,627.8 365.0,618.9 367.1,618.0 C369.2,617.2 376.9,624.3 380.1,625.2 C383.3,626.2 382.4,624.1 386.3,623.8 C390.3,623.5 401.5,622.3 403.9,623.4 C406.3,624.6 400.1,628.4 400.5,630.8 C401.0,633.2 405.7,636.6 406.7,637.8 Z" fill="#f2f4f1"/>
<path d="M125.1,620.7 C125.8,621.5 128.8,623.7 129.2,625.5 C129.6,627.4 129.3,630.6 127.4,631.6 C125.5,632.6 120.7,630.2 117.7,631.5 C114.6,632.8 111.8,637.9 109.0,639.2 C106.2,640.5 102.6,641.0 100.7,639.2 C98.7,637.5 99.3,630.5 97.3,628.7 C95.2,626.9 90.4,630.0 88.4,628.5 C86.3,626.9 84.6,621.5 85.0,619.2 C85.3,617.0 88.5,616.8 90.3,615.1 C92.1,613.4 93.6,610.9 95.6,609.0 C97.7,607.1 100.4,605.0 102.5,603.6 C104.6,602.2 105.4,600.6 108.3,600.5 C111.1,600.5 116.5,602.0 119.5,603.2 C122.4,604.5 123.6,606.0 125.8,607.8 C128.0,609.7 132.7,612.2 132.6,614.4 C132.5,616.5 126.4,619.6 125.1,620.7 Z" fill="#f2f4f1"/>
<path d="M267.2,700.0 C267.3,701.2 268.4,705.3 267.4,707.0 C266.5,708.7 262.6,708.3 261.4,710.3 C260.3,712.3 262.7,716.4 260.6,718.8 C258.5,721.2 251.9,725.2 248.9,724.8 C245.9,724.3 245.4,717.4 242.4,716.0 C239.5,714.7 233.0,718.5 231.2,716.7 C229.4,714.9 232.1,708.2 231.6,705.3 C231.1,702.3 229.3,701.3 228.0,699.2 C226.8,697.0 223.4,694.5 224.0,692.4 C224.6,690.2 228.9,687.6 231.8,686.2 C234.6,684.9 238.5,686.1 241.2,684.4 C243.9,682.7 244.6,676.8 248.1,675.9 C251.5,675.1 258.7,677.6 262.1,679.3 C265.4,680.9 266.1,683.8 268.1,685.9 C270.1,688.0 274.2,689.5 274.1,691.9 C273.9,694.2 268.4,698.7 267.2,700.0 Z" fill="#f2f4f1"/>
<path d="M626.6,780.4 C625.8,781.6 622.9,784.9 622.0,787.5 C621.1,790.2 623.4,795.4 621.0,796.4 C618.6,797.5 611.0,793.0 607.8,793.7 C604.5,794.4 604.8,799.9 601.6,800.6 C598.5,801.4 591.4,799.5 589.0,798.3 C586.5,797.0 588.3,794.8 587.0,793.1 C585.6,791.4 583.8,790.1 581.0,788.1 C578.2,786.1 571.4,783.7 570.2,780.9 C568.9,778.0 570.6,773.0 573.6,771.0 C576.5,768.9 585.6,770.7 587.7,768.4 C589.9,766.2 584.7,758.7 586.4,757.4 C588.0,756.1 594.0,759.6 597.7,760.8 C601.5,762.0 604.8,764.3 608.9,764.8 C612.9,765.3 620.1,761.9 621.9,763.5 C623.8,765.1 619.2,771.6 619.9,774.4 C620.7,777.2 625.5,779.4 626.6,780.4 Z" fill="#f2f4f1"/>
<path d="M753.8,802.4 C751.9,803.0 744.0,803.3 742.3,806.0 C740.7,808.6 745.5,815.5 743.7,818.3 C741.8,821.2 735.4,822.0 731.2,823.1 C727.0,824.3 721.9,826.3 718.5,825.2 C715.0,824.1 714.6,817.0 710.5,816.3 C706.5,815.7 696.0,822.8 694.2,821.2 C692.4,819.5 701.6,810.5 699.9,806.6 C698.2,802.7 685.2,800.2 684.2,797.8 C683.3,795.3 690.9,793.7 694.3,791.9 C697.7,790.2 702.0,789.3 704.8,787.4 C707.6,785.4 708.7,782.2 710.9,780.0 C713.2,777.8 714.4,774.5 718.2,774.1 C721.9,773.6 729.0,775.9 733.2,777.3 C737.4,778.6 739.9,780.3 743.2,782.2 C746.5,784.0 751.1,785.0 752.9,788.4 C754.6,791.8 753.6,800.0 753.8,802.4 Z" fill="#f2f4f1"/>
<path d="M559.5,799.8 C559.6,801.9 561.7,810.3 560.1,812.6 C558.5,814.9 551.9,811.8 550.0,813.6 C548.0,815.3 550.1,822.3 548.4,823.2 C546.8,824.0 542.7,818.9 540.1,818.7 C537.5,818.5 536.0,821.8 532.8,821.9 C529.6,821.9 523.4,820.8 521.1,819.1 C518.9,817.4 519.3,814.7 519.3,811.7 C519.3,808.7 520.7,804.1 521.2,801.1 C521.8,798.0 522.2,796.8 522.7,793.4 C523.2,789.9 523.0,783.6 524.4,780.4 C525.9,777.2 529.0,775.3 531.5,774.0 C534.1,772.8 537.4,771.4 539.7,772.7 C542.0,773.9 542.4,780.6 545.2,781.7 C548.0,782.9 553.9,778.3 556.4,779.4 C559.0,780.5 560.2,784.9 560.7,788.3 C561.2,791.6 559.7,797.8 559.5,799.8 Z" fill="#f2f4f1"/>
<path d="M423.6,721.4 C421.8,722.0 414.1,723.8 412.5,725.1 C410.8,726.4 414.6,727.1 413.8,729.1 C412.9,731.0 409.9,735.0 407.3,736.8 C404.6,738.6 400.4,740.1 397.9,739.8 C395.4,739.5 394.7,735.8 392.4,734.9 C390.2,734.0 385.8,736.0 384.4,734.6 C383.0,733.2 385.2,729.0 384.2,726.6 C383.3,724.2 379.0,722.1 378.7,720.2 C378.4,718.2 381.0,716.5 382.3,714.9 C383.6,713.3 384.6,711.5 386.6,710.5 C388.6,709.6 391.9,711.0 394.5,709.3 C397.1,707.7 399.4,701.3 401.9,700.6 C404.5,699.9 408.0,704.0 409.9,705.3 C411.7,706.6 411.4,707.0 412.8,708.5 C414.2,710.0 416.4,712.2 418.2,714.3 C420.0,716.5 422.7,720.2 423.6,721.4 Z" fill="#f2f4f1"/>
<path d="M201.4,758.7 C200.1,759.8 194.0,762.5 193.3,765.1 C192.6,767.7 198.5,773.3 197.3,774.2 C196.1,775.1 189.1,770.4 185.9,770.6 C182.8,770.7 180.8,774.2 178.2,775.1 C175.6,776.0 172.9,776.2 170.2,776.2 C167.5,776.1 162.8,776.9 162.1,774.8 C161.3,772.7 166.9,765.7 165.8,763.6 C164.6,761.4 155.0,763.2 155.2,761.8 C155.3,760.5 164.9,758.3 166.6,755.7 C168.4,753.1 164.1,747.4 165.5,746.1 C166.8,744.7 172.1,747.6 174.6,747.7 C177.1,747.8 178.0,746.9 180.3,746.7 C182.6,746.5 186.1,746.2 188.4,746.7 C190.8,747.1 191.6,748.1 194.1,749.3 C196.7,750.6 202.4,752.7 203.6,754.3 C204.8,755.9 201.8,758.0 201.4,758.7 Z" fill="#f2f4f1"/>
<path d="M1168.9,300.3 C1169.2,301.8 1170.6,306.5 1170.5,308.9 C1170.4,311.4 1170.3,312.8 1168.4,315.1 C1166.6,317.3 1162.9,321.8 1159.6,322.2 C1156.3,322.7 1152.1,318.0 1148.5,317.7 C1144.9,317.4 1139.8,321.4 1137.9,320.2 C1136.1,319.1 1138.8,312.7 1137.5,310.6 C1136.2,308.4 1132.2,308.9 1130.0,307.2 C1127.7,305.6 1123.9,302.8 1124.1,300.7 C1124.2,298.6 1130.1,297.1 1130.9,294.5 C1131.7,291.9 1127.1,288.1 1128.7,285.1 C1130.2,282.1 1136.5,276.9 1140.1,276.4 C1143.6,275.9 1146.8,282.1 1150.0,282.4 C1153.2,282.7 1156.0,278.3 1159.2,278.3 C1162.4,278.2 1167.0,279.5 1169.0,282.0 C1171.0,284.6 1171.3,290.6 1171.3,293.7 C1171.3,296.7 1169.3,299.2 1168.9,300.3 Z" fill="#f2f4f1"/>
<path d="M1230.3,419.6 C1228.2,420.8 1218.9,423.6 1217.9,426.8 C1216.9,430.0 1226.0,437.7 1224.5,438.8 C1223.1,440.0 1213.1,434.5 1209.0,433.8 C1204.9,433.2 1203.4,433.5 1200.0,434.9 C1196.6,436.4 1192.6,442.4 1188.8,442.5 C1184.9,442.5 1179.3,437.8 1177.1,435.3 C1175.0,432.8 1176.1,429.8 1175.7,427.5 C1175.3,425.3 1173.8,424.0 1174.9,421.8 C1175.9,419.5 1181.5,417.5 1181.7,414.0 C1182.0,410.5 1175.2,403.2 1176.5,400.9 C1177.8,398.7 1185.4,401.8 1189.4,400.7 C1193.3,399.5 1196.2,393.7 1200.1,394.1 C1203.9,394.5 1208.6,401.7 1212.7,403.1 C1216.7,404.4 1223.3,400.2 1224.5,402.0 C1225.7,403.8 1219.1,411.0 1220.0,414.0 C1221.0,416.9 1228.6,418.6 1230.3,419.6 Z" fill="#f2f4f1"/>
<path d="M1300.3,378.0 C1299.7,379.4 1297.3,382.5 1296.7,386.5 C1296.1,390.5 1298.3,399.9 1296.7,401.9 C1295.1,404.0 1290.1,398.8 1287.1,398.9 C1284.1,399.0 1281.2,401.7 1278.8,402.7 C1276.5,403.7 1275.2,405.2 1273.0,404.8 C1270.7,404.3 1268.7,401.7 1265.1,399.9 C1261.6,398.1 1253.4,397.2 1251.6,393.9 C1249.7,390.7 1252.6,384.1 1254.0,380.5 C1255.5,376.9 1259.6,376.5 1260.2,372.3 C1260.8,368.1 1255.8,357.5 1257.7,355.3 C1259.5,353.2 1267.8,360.1 1271.4,359.5 C1275.0,358.8 1276.6,351.7 1279.3,351.7 C1282.0,351.7 1284.8,357.7 1287.6,359.5 C1290.4,361.3 1293.7,360.9 1295.9,362.7 C1298.2,364.5 1300.6,367.7 1301.3,370.3 C1302.0,372.8 1300.5,376.7 1300.3,378.0 Z" fill="#f2f4f1"/>
<path d="M1129.6,471.0 C1128.0,471.4 1122.7,472.5 1120.0,473.4 C1117.4,474.4 1114.8,475.3 1113.6,476.7 C1112.4,478.2 1114.7,481.1 1112.6,482.2 C1110.5,483.4 1104.8,484.0 1100.9,483.7 C1097.0,483.4 1091.6,481.6 1089.3,480.3 C1087.0,479.0 1088.2,477.1 1087.0,475.9 C1085.8,474.7 1084.0,474.1 1082.2,473.0 C1080.4,471.9 1077.1,470.7 1076.2,469.2 C1075.2,467.7 1074.7,464.8 1076.4,463.8 C1078.2,462.9 1085.0,464.5 1086.8,463.4 C1088.5,462.4 1084.6,458.0 1086.9,457.4 C1089.1,456.9 1096.6,460.0 1100.3,460.1 C1103.9,460.2 1105.9,457.7 1108.8,457.9 C1111.6,458.1 1114.3,460.2 1117.3,461.3 C1120.4,462.4 1125.0,463.0 1127.0,464.6 C1129.1,466.2 1129.2,469.9 1129.6,471.0 Z" fill="#f2f4f1"/>
<path d="M1314.1,451.0 C1313.3,452.5 1309.9,457.3 1309.1,460.0 C1308.3,462.7 1311.3,465.4 1309.2,467.1 C1307.1,468.7 1299.5,469.3 1296.4,469.9 C1293.2,470.5 1292.7,470.5 1290.2,470.9 C1287.6,471.2 1283.9,473.0 1281.1,472.0 C1278.4,470.9 1275.5,467.2 1273.7,464.8 C1272.0,462.5 1271.0,459.9 1270.7,457.6 C1270.5,455.4 1273.0,453.9 1272.4,451.3 C1271.7,448.7 1266.3,444.4 1266.9,442.1 C1267.4,439.8 1273.2,439.1 1275.7,437.4 C1278.2,435.8 1279.8,434.1 1282.0,432.4 C1284.2,430.7 1286.5,427.8 1289.0,427.2 C1291.6,426.5 1294.3,427.1 1297.3,428.6 C1300.3,430.1 1305.9,433.6 1307.0,436.0 C1308.1,438.5 1302.6,440.9 1303.7,443.4 C1304.9,445.9 1312.4,449.7 1314.1,451.0 Z" fill="#f2f4f1"/>
<path d="M978.6,291.4 C979.6,292.3 985.1,294.6 984.3,296.5 C983.6,298.4 977.2,301.2 974.3,302.9 C971.3,304.5 968.6,305.5 966.6,306.4 C964.6,307.3 964.9,308.2 962.2,308.4 C959.5,308.7 953.5,308.4 950.2,307.8 C947.0,307.3 943.9,307.4 942.8,305.3 C941.6,303.1 943.0,297.3 943.5,294.8 C944.0,292.2 946.5,291.8 945.6,289.9 C944.8,288.0 938.2,285.2 938.4,283.6 C938.6,282.0 944.5,282.3 946.9,280.2 C949.2,278.1 950.2,271.9 952.5,270.9 C954.8,270.0 957.6,274.5 960.7,274.6 C963.8,274.8 969.6,270.9 971.1,271.9 C972.7,272.9 969.5,278.5 970.0,280.6 C970.5,282.6 972.9,282.2 974.4,284.0 C975.8,285.8 977.9,290.2 978.6,291.4 Z" fill="#f2f4f1"/>
<path d="M1044.8,251.2 C1046.2,252.1 1053.0,254.6 1052.8,256.5 C1052.6,258.5 1045.8,260.8 1043.5,262.7 C1041.2,264.6 1041.4,266.8 1038.8,267.9 C1036.1,269.1 1030.6,270.2 1027.7,269.6 C1024.7,269.0 1023.2,265.6 1021.1,264.5 C1019.1,263.3 1017.3,264.3 1015.1,262.8 C1012.9,261.4 1009.3,258.1 1007.9,255.7 C1006.4,253.4 1006.1,250.8 1006.4,248.7 C1006.7,246.7 1008.2,245.4 1009.6,243.5 C1011.0,241.7 1012.5,238.4 1014.7,237.5 C1017.0,236.5 1020.5,239.1 1022.9,238.0 C1025.3,236.9 1027.0,231.1 1029.3,230.8 C1031.5,230.5 1033.8,234.7 1036.3,236.3 C1038.9,237.9 1042.3,239.1 1044.6,240.4 C1046.9,241.6 1050.1,242.1 1050.1,243.9 C1050.2,245.7 1045.7,250.0 1044.8,251.2 Z" fill="#f2f4f1"/>
<path d="M475.0,198.8 C474.7,200.2 474.9,205.4 473.4,206.9 C471.9,208.4 467.4,206.1 466.0,207.9 C464.7,209.6 466.5,215.7 465.5,217.3 C464.5,218.9 461.7,218.5 460.2,217.4 C458.7,216.4 458.0,211.9 456.5,210.7 C455.0,209.5 452.2,211.5 451.4,210.4 C450.6,209.2 452.2,205.5 451.6,203.8 C451.0,202.2 448.1,202.1 447.7,200.4 C447.3,198.6 448.5,195.1 449.3,193.4 C450.2,191.7 452.1,191.8 452.9,190.1 C453.7,188.4 453.1,184.6 454.2,183.2 C455.3,181.8 458.0,181.5 459.6,181.7 C461.2,181.8 462.8,182.5 463.8,184.2 C464.9,185.9 464.6,190.3 466.1,191.8 C467.6,193.3 471.4,191.8 472.9,193.0 C474.4,194.1 474.7,197.8 475.0,198.8 Z" fill="#f2f4f1"/>
<path d="M604.7,230.3 C605.0,232.2 607.5,239.4 606.5,241.7 C605.6,244.0 600.8,242.4 599.1,244.2 C597.4,245.9 598.0,251.5 596.4,252.0 C594.9,252.5 591.9,246.9 589.8,247.3 C587.7,247.7 585.1,255.3 584.0,254.2 C582.9,253.1 584.2,244.0 583.4,240.9 C582.6,237.9 580.7,237.7 579.2,236.1 C577.8,234.5 574.9,233.6 574.5,231.1 C574.1,228.7 575.9,224.1 576.8,221.2 C577.8,218.3 579.2,215.8 580.3,213.8 C581.4,211.8 581.8,210.0 583.3,209.4 C584.8,208.7 587.3,208.8 589.2,209.9 C591.0,211.0 592.4,215.5 594.5,215.9 C596.7,216.4 600.1,211.9 602.1,212.7 C604.1,213.5 606.3,217.9 606.8,220.8 C607.2,223.7 605.1,228.7 604.7,230.3 Z" fill="#f2f4f1"/>
<path d="M539.7,359.9 C538.7,361.0 535.5,364.4 533.8,366.1 C532.1,367.9 531.1,369.1 529.5,370.6 C527.8,372.1 525.4,373.6 523.8,374.9 C522.2,376.2 521.4,378.8 519.8,378.5 C518.3,378.3 516.1,374.0 514.5,373.3 C512.8,372.7 511.2,375.3 509.9,374.6 C508.6,373.8 506.9,371.3 506.7,368.7 C506.6,366.2 509.3,362.2 508.8,359.3 C508.3,356.4 504.4,353.7 503.9,351.3 C503.4,348.9 504.5,346.9 505.7,344.8 C506.9,342.7 508.9,340.2 511.0,338.6 C513.2,337.0 516.1,334.3 518.6,335.4 C521.1,336.4 524.7,342.7 526.2,344.8 C527.7,347.0 525.9,347.7 527.6,348.5 C529.3,349.4 534.5,347.8 536.5,349.7 C538.5,351.6 539.2,358.2 539.7,359.9 Z" fill="#f2f4f1"/>
<path d="M613.4,420.3 C613.4,421.0 613.8,422.2 613.9,424.2 C614.1,426.3 615.5,431.4 614.2,432.7 C612.9,434.0 608.3,432.0 606.1,431.9 C603.9,431.8 603.3,431.2 601.0,432.2 C598.6,433.2 593.7,438.0 591.8,437.8 C590.0,437.5 591.1,432.4 589.7,430.7 C588.4,429.0 584.8,429.1 583.8,427.5 C582.9,425.9 584.7,423.5 584.3,421.3 C583.9,419.0 581.1,416.2 581.6,413.8 C582.1,411.4 585.5,407.9 587.5,406.8 C589.6,405.6 591.7,407.4 594.0,406.8 C596.3,406.3 599.5,403.2 601.4,403.4 C603.3,403.5 603.2,407.0 605.4,407.6 C607.6,408.2 612.6,406.2 614.8,407.2 C617.0,408.3 618.9,411.7 618.6,413.9 C618.4,416.1 614.2,419.2 613.4,420.3 Z" fill="#f2f4f1"/>
<path d="M100.7,150.8 C99.1,151.6 92.0,153.6 90.8,155.6 C89.6,157.6 94.0,161.3 93.4,162.9 C92.8,164.6 89.4,165.9 87.2,165.7 C84.9,165.5 81.7,161.8 79.7,161.8 C77.6,161.8 76.1,166.2 74.9,165.7 C73.6,165.3 74.3,160.7 72.3,159.2 C70.4,157.7 63.8,158.1 63.2,156.6 C62.5,155.0 67.5,151.8 68.5,149.9 C69.5,148.0 68.7,146.7 69.3,145.2 C69.8,143.8 71.3,143.3 71.8,141.2 C72.2,139.2 71.0,134.7 72.2,132.9 C73.3,131.1 76.2,130.8 78.5,130.4 C80.8,130.1 84.1,129.6 86.2,130.7 C88.3,131.8 89.0,135.1 91.1,137.2 C93.1,139.4 96.9,141.2 98.5,143.5 C100.1,145.7 100.4,149.6 100.7,150.8 Z" fill="#f2f4f1"/>
<path d="M90.9,249.4 C91.0,251.1 92.8,257.5 91.3,259.7 C89.9,261.8 84.0,260.5 82.1,262.4 C80.1,264.3 80.5,268.6 79.6,270.9 C78.6,273.2 78.0,276.3 76.5,276.3 C75.0,276.4 72.5,272.6 70.5,271.4 C68.5,270.2 65.1,271.7 64.3,269.4 C63.5,267.0 65.8,260.4 65.6,257.2 C65.4,253.9 63.9,252.5 63.1,249.7 C62.3,246.8 60.7,242.9 60.6,240.1 C60.6,237.3 61.4,234.8 62.8,232.8 C64.2,230.8 67.0,228.6 69.1,228.1 C71.2,227.7 73.8,230.5 75.6,230.3 C77.4,230.1 78.1,226.4 79.9,226.9 C81.7,227.4 85.6,230.9 86.5,233.3 C87.4,235.7 84.5,238.5 85.3,241.2 C86.0,243.9 89.9,248.1 90.9,249.4 Z" fill="#f2f4f1"/>
<path d="M1271.7,198.9 C1272.1,200.0 1274.8,203.2 1273.9,205.4 C1273.1,207.6 1268.7,209.9 1266.5,211.9 C1264.3,214.0 1263.7,217.0 1260.7,217.7 C1257.8,218.3 1251.7,216.7 1248.9,215.7 C1246.0,214.7 1245.4,212.7 1243.7,211.6 C1242.0,210.5 1241.4,209.8 1238.8,209.0 C1236.2,208.1 1230.8,207.9 1227.9,206.4 C1224.9,204.9 1222.1,202.7 1221.2,200.2 C1220.3,197.6 1220.6,193.4 1222.6,191.1 C1224.5,188.8 1230.4,187.4 1232.9,186.4 C1235.5,185.4 1234.8,184.7 1237.9,184.9 C1241.1,185.0 1247.8,187.3 1251.7,187.1 C1255.6,187.0 1259.6,183.5 1261.3,184.0 C1263.1,184.5 1260.9,188.6 1262.2,190.3 C1263.6,192.1 1267.9,192.9 1269.5,194.3 C1271.1,195.8 1271.3,198.1 1271.7,198.9 Z" fill="#f2f4f1"/>
<path d="M880.6,420.1 C881.1,421.4 884.6,425.9 883.4,428.2 C882.2,430.6 876.2,432.2 873.6,434.3 C870.9,436.5 870.0,440.2 867.5,441.1 C865.0,442.0 860.8,439.7 858.5,439.8 C856.1,439.9 855.6,442.3 853.3,441.5 C851.0,440.7 846.7,437.3 844.9,435.2 C843.1,433.2 844.1,431.8 842.5,429.1 C840.9,426.3 835.9,421.8 835.3,418.6 C834.8,415.3 838.0,412.5 839.0,409.6 C840.1,406.8 839.6,403.9 841.8,401.6 C844.1,399.4 849.4,396.0 852.4,396.3 C855.4,396.6 857.1,403.0 859.7,403.5 C862.3,403.9 865.6,398.6 867.9,399.1 C870.2,399.6 871.2,404.7 873.5,406.7 C875.8,408.6 880.7,408.4 881.8,410.6 C883.0,412.9 880.8,418.5 880.6,420.1 Z" fill="#f2f4f1"/>
<path d="M337.2,835.5 C336.8,836.8 336.0,840.9 334.8,843.1 C333.7,845.3 332.2,847.3 330.4,848.6 C328.7,849.9 326.7,850.8 324.4,851.0 C322.1,851.1 318.8,850.6 316.6,849.4 C314.5,848.2 313.3,845.9 311.5,843.7 C309.8,841.6 306.5,838.5 306.3,836.2 C306.0,833.9 308.5,832.4 310.0,829.9 C311.4,827.5 312.6,822.8 314.8,821.4 C317.0,820.0 320.5,820.8 323.2,821.4 C325.9,822.0 328.8,823.7 331.0,825.1 C333.2,826.5 335.2,828.0 336.2,829.8 C337.3,831.5 337.0,834.6 337.2,835.5 Z" fill="#d3d8dc"/>
<path d="M987,348.4 L1003.8,343.3 L1020.6,326.5 L1044,319.8 L1050.9,335 L1039,338.3 L1034,356.8 L1030.7,343.3 L1017.2,345 L998.7,351.8 Z" fill="#d3d8dc"/>
<path d="M48.0,150.0 C51.7,152.5 68.7,156.7 70.0,165.0 C71.3,173.3 58.3,194.2 56.0,200.0" fill="none" stroke="#ebecec" stroke-width="1.2" stroke-linecap="round" stroke-linejoin="round"/>
<path d="M101.0,214.0 C107.5,206.7 132.7,182.3 140.0,170.0 C147.3,157.7 146.7,147.0 145.0,140.0 C143.3,133.0 132.5,130.0 130.0,128.0" fill="none" stroke="#ebecec" stroke-width="1.2" stroke-linecap="round" stroke-linejoin="round"/>
<path d="M421.0,210.0 C423.7,199.2 423.8,158.7 437.0,145.0 C450.2,131.3 489.5,130.8 500.0,128.0" fill="none" stroke="#ebecec" stroke-width="1.2" stroke-linecap="round" stroke-linejoin="round"/>
<path d="M170.0,420.0 C180.0,413.3 208.3,395.0 230.0,380.0 C251.7,365.0 275.0,343.3 300.0,330.0 C325.0,316.7 355.0,305.8 380.0,300.0 C405.0,294.2 438.3,295.8 450.0,295.0" fill="none" stroke="#ebecec" stroke-width="1.2" stroke-linecap="round" stroke-linejoin="round"/>
<path d="M203.0,472.0 C212.5,466.7 238.8,450.3 260.0,440.0 C281.2,429.7 306.7,420.0 330.0,410.0 C353.3,400.0 375.0,388.3 400.0,380.0 C425.0,371.7 466.7,363.3 480.0,360.0" fill="none" stroke="#ebecec" stroke-width="1.2" stroke-linecap="round" stroke-linejoin="round"/>
<path d="M270.0,560.0 C280.0,553.3 308.3,533.3 330.0,520.0 C351.7,506.7 376.7,488.3 400.0,480.0 C423.3,471.7 458.3,471.7 470.0,470.0" fill="none" stroke="#ebecec" stroke-width="1.2" stroke-linecap="round" stroke-linejoin="round"/>
<path d="M298.0,570.0 C308.3,568.3 339.7,565.0 360.0,560.0 C380.3,555.0 398.3,546.7 420.0,540.0 C441.7,533.3 478.3,523.3 490.0,520.0" fill="none" stroke="#ebecec" stroke-width="1.2" stroke-linecap="round" stroke-linejoin="round"/>
<path d="M48.0,620.0 C60.0,616.7 94.7,605.0 120.0,600.0 C145.3,595.0 176.7,593.3 200.0,590.0 C223.3,586.7 250.0,581.7 260.0,580.0" fill="none" stroke="#ebecec" stroke-width="1.2" stroke-linecap="round" stroke-linejoin="round"/>
<path d="M48.0,700.0 C58.3,698.3 84.7,695.0 110.0,690.0 C135.3,685.0 171.7,676.7 200.0,670.0 C228.3,663.3 258.3,655.0 280.0,650.0 C301.7,645.0 321.7,641.7 330.0,640.0" fill="none" stroke="#ebecec" stroke-width="1.2" stroke-linecap="round" stroke-linejoin="round"/>
<path d="M150.0,860.0 C158.3,850.0 185.0,816.7 200.0,800.0 C215.0,783.3 223.3,773.3 240.0,760.0 C256.7,746.7 281.7,730.0 300.0,720.0 C318.3,710.0 330.0,705.0 350.0,700.0 C370.0,695.0 400.0,690.8 420.0,690.0 C440.0,689.2 461.7,694.2 470.0,695.0" fill="none" stroke="#ebecec" stroke-width="1.2" stroke-linecap="round" stroke-linejoin="round"/>
<path d="M560.0,520.0 C566.7,513.3 586.7,493.3 600.0,480.0 C613.3,466.7 623.3,450.0 640.0,440.0 C656.7,430.0 680.0,426.7 700.0,420.0 C720.0,413.3 738.3,406.7 760.0,400.0 C781.7,393.3 818.3,383.3 830.0,380.0" fill="none" stroke="#ebecec" stroke-width="1.2" stroke-linecap="round" stroke-linejoin="round"/>
<path d="M520.0,600.0 C530.0,598.3 560.0,595.0 580.0,590.0 C600.0,585.0 620.0,575.0 640.0,570.0 C660.0,565.0 676.7,565.0 700.0,560.0 C723.3,555.0 755.0,546.7 780.0,540.0 C805.0,533.3 838.3,523.3 850.0,520.0" fill="none" stroke="#ebecec" stroke-width="1.2" stroke-linecap="round" stroke-linejoin="round"/>
<path d="M600.0,300.0 C606.7,308.3 630.0,330.0 640.0,350.0 C650.0,370.0 653.3,398.3 660.0,420.0 C666.7,441.7 673.3,463.3 680.0,480.0 C686.7,496.7 696.7,513.3 700.0,520.0" fill="none" stroke="#ebecec" stroke-width="1.2" stroke-linecap="round" stroke-linejoin="round"/>
<path d="M740.0,240.0 C743.3,250.0 753.3,280.0 760.0,300.0 C766.7,320.0 773.3,340.0 780.0,360.0 C786.7,380.0 791.7,400.0 800.0,420.0 C808.3,440.0 825.0,470.0 830.0,480.0" fill="none" stroke="#ebecec" stroke-width="1.2" stroke-linecap="round" stroke-linejoin="round"/>
<path d="M870.0,200.0 C871.7,210.0 875.0,240.0 880.0,260.0 C885.0,280.0 891.7,300.0 900.0,320.0 C908.3,340.0 920.0,363.3 930.0,380.0 C940.0,396.7 948.3,405.0 960.0,420.0 C971.7,435.0 993.3,461.7 1000.0,470.0" fill="none" stroke="#ebecec" stroke-width="1.2" stroke-linecap="round" stroke-linejoin="round"/>
<path d="M950.0,128.0 C948.3,135.0 941.7,158.0 940.0,170.0 C938.3,182.0 940.0,195.0 940.0,200.0" fill="none" stroke="#ebecec" stroke-width="1.2" stroke-linecap="round" stroke-linejoin="round"/>
<path d="M1060.0,250.0 C1063.3,258.3 1073.3,286.7 1080.0,300.0 C1086.7,313.3 1089.2,322.8 1100.0,330.0 C1110.8,337.2 1137.5,340.8 1145.0,343.0" fill="none" stroke="#ebecec" stroke-width="1.2" stroke-linecap="round" stroke-linejoin="round"/>
<path d="M800.0,700.0 C793.3,710.0 773.3,740.0 760.0,760.0 C746.7,780.0 726.7,810.0 720.0,820.0" fill="none" stroke="#ebecec" stroke-width="1.2" stroke-linecap="round" stroke-linejoin="round"/>
<path d="M600.0,690.0 C606.7,698.3 630.0,721.7 640.0,740.0 C650.0,758.3 658.3,780.0 660.0,800.0 C661.7,820.0 651.7,850.0 650.0,860.0" fill="none" stroke="#ebecec" stroke-width="1.2" stroke-linecap="round" stroke-linejoin="round"/>
<path d="M420.0,700.0 C413.3,706.7 391.7,725.0 380.0,740.0 C368.3,755.0 355.0,781.7 350.0,790.0" fill="none" stroke="#ebecec" stroke-width="1.2" stroke-linecap="round" stroke-linejoin="round"/>
<path d="M120.0,880.0 C126.7,886.7 151.7,903.3 160.0,920.0 C168.3,936.7 170.0,960.0 170.0,980.0 C170.0,1000.0 161.7,1030.0 160.0,1040.0" fill="none" stroke="#ebecec" stroke-width="1.2" stroke-linecap="round" stroke-linejoin="round"/>
<path d="M300.0,1000.0 C310.0,1006.7 340.0,1030.0 360.0,1040.0 C380.0,1050.0 400.0,1053.3 420.0,1060.0 C440.0,1066.7 470.0,1076.7 480.0,1080.0" fill="none" stroke="#ebecec" stroke-width="1.2" stroke-linecap="round" stroke-linejoin="round"/>
<path d="M600.0,1000.0 C606.7,993.3 623.3,970.0 640.0,960.0 C656.7,950.0 680.0,944.2 700.0,940.0 C720.0,935.8 741.7,936.7 760.0,935.0 C778.3,933.3 801.7,930.8 810.0,930.0" fill="none" stroke="#ebecec" stroke-width="1.2" stroke-linecap="round" stroke-linejoin="round"/>
<polyline points="187.4,226.4 188.3,217.9 191.5,210.0 196.5,205.4 200.4,200.0 203.2,193.7 207.9,188.9 211.9,183.5 216.5,178.7 220.2,173.1 226.4,171.1 231.1,166.2 236.7,163.1 243.6,162.6 248.8,158.6 255.0,156.6 259.7,151.6 266.0,150.0 272.2,147.9 277.6,144.4 283.4,142.1 289.9,142.8 295.8,141.2 301.1,137.0 307.0,135.5 313.4,135.6 319.7,135.3 325.2,132.1 331.1,130.1 337.2,129.2 343.2,128.0" fill="none" stroke="#c6d0d9" stroke-width="1.3" stroke-linecap="round" stroke-linejoin="round"/>
<polyline points="172.5,232.4 168.3,237.5 165.5,243.2 165.2,250.3 162.2,256.0 157.2,260.6 154.6,266.5 152.4,272.6 148.7,278.0 146.5,284.1 142.5,289.3 139.3,294.9 136.4,300.7 131.5,305.2 127.8,310.8 122.5,314.9 117.9,319.7 112.5,323.6 108.3,328.8 101.7,328.4 95.4,329.7 89.3,332.1 83.1,333.6 76.9,335.3 70.7,337.2 64.1,336.9 59.4,341.0 53.4,342.4 48.0,345.0" fill="none" stroke="#c6d0d9" stroke-width="1.3" stroke-linecap="round" stroke-linejoin="round"/>
<polyline points="531.8,169.0 537.8,167.1 544.1,167.1 550.2,165.5 556.5,165.2 562.6,164.3 568.5,161.5 574.6,160.3 581.0,160.8 587.6,161.8 594.1,159.8 600.7,159.6 607.3,162.0 613.9,160.2 620.5,161.3 627.0,160.0 633.6,160.0 640.0,159.6 646.1,157.2 652.6,157.9 659.0,157.8 665.1,155.8 671.5,155.7 677.8,154.6 684.0,153.2 688.9,148.2 695.8,146.1 701.0,141.5 706.5,139.1 711.5,135.5 716.5,132.1 723.0,131.7 727.9,128.0" fill="none" stroke="#c6d0d9" stroke-width="1.3" stroke-linecap="round" stroke-linejoin="round"/>
<polyline points="581.0,312.5 587.4,312.4 593.8,312.7 600.0,314.7 606.2,312.5 612.3,309.9 618.5,307.7 625.2,306.8 631.9,306.5 638.2,304.3 644.4,302.3 650.5,299.6 656.7,298.1 663.1,298.5 669.4,297.0 675.6,296.1 681.9,295.2 688.3,294.9 694.8,296.6 701.0,294.6 707.1,296.7 713.4,297.7 719.7,298.7 726.4,297.8 732.6,299.2 738.7,301.3 745.0,302.7 751.4,303.0 758.2,303.4 765.0,302.8 771.4,299.6 778.3,300.6 785.0,299.6 789.7,294.0 793.5,287.8 796.8,281.3 801.9,276.0 806.9,271.7 811.2,266.6 817.9,264.5 822.8,260.1 827.2,255.1 831.8,250.3 838.1,247.6 842.3,242.4 848.6,240.2 855.2,238.7 861.4,236.2 867.3,232.8 873.4,230.1 879.9,228.3 886.0,225.6 891.5,222.0 896.7,217.9 902.5,215.0 909.0,213.0 913.3,207.5 919.7,205.4 924.9,201.7 931.4,201.0 936.7,197.6 942.8,195.9 948.5,193.3 954.0,190.5 960.0,188.6 966.3,186.6 970.4,181.0 976.3,178.2 981.4,174.3 987.6,172.1 992.5,167.7 998.1,164.6 1003.8,161.6 1009.3,158.9 1013.5,154.4 1019.0,151.7 1024.7,149.3 1028.3,143.8 1034.0,141.5 1040.6,139.5 1047.4,139.5 1054.2,139.8 1052.3,146.9 1051.6,154.3 1050.9,161.6 1056.5,166.1 1061.3,171.3 1066.7,176.0 1071.0,181.8 1075.9,185.6 1081.5,188.4 1085.0,193.9 1089.5,198.2 1094.2,202.2 1099.4,205.5 1104.7,208.8 1105.6,214.9 1110.6,219.4 1111.4,225.6 1118.2,225.4 1124.8,227.9 1131.6,227.8 1138.4,227.3 1144.7,227.2 1151.0,229.1 1157.3,228.3 1163.6,229.2 1169.9,227.7 1176.2,227.6 1182.5,228.6 1188.8,229.0 1194.7,233.2 1198.9,239.0 1205.5,237.0 1212.7,237.1 1218.9,233.5 1225.8,232.3 1227.8,224.8 1232.6,218.8 1237.9,215.0 1243.9,212.8 1250.5,212.1 1256.0,208.8 1261.4,204.5 1266.9,200.4 1272.2,195.9 1279.4,194.3 1284.0,188.9 1289.8,185.2 1296.2,183.0 1302.6,181.3 1309.2,180.1 1316.0,180.2" fill="none" stroke="#c6d0d9" stroke-width="1.3" stroke-linecap="round" stroke-linejoin="round"/>
<polyline points="825.4,128.0 831.5,129.8 837.6,131.6 843.7,133.1 849.8,135.0 856.1,135.7 862.5,136.4 869.3,137.2 875.8,133.8 882.6,134.6 889.5,135.5 896.1,134.0 902.8,133.0 909.2,133.6 915.2,130.3 921.6,130.8 927.7,129.3 934.1,129.6 940.4,128.9 946.6,128.0" fill="none" stroke="#c6d0d9" stroke-width="1.3" stroke-linecap="round" stroke-linejoin="round"/>
<polyline points="1202.3,441.0 1207.1,446.4 1212.4,451.2 1218.5,455.1 1224.3,459.2 1229.2,464.5 1235.8,465.0 1241.2,469.0 1247.4,470.5 1253.2,473.4 1259.5,474.6 1265.7,473.4 1272.2,473.9 1278.2,471.6 1284.7,472.5 1291.0,471.6 1297.1,469.8 1303.5,469.4 1309.8,469.1 1316.0,467.8" fill="none" stroke="#c6d0d9" stroke-width="1.3" stroke-linecap="round" stroke-linejoin="round"/>
<polyline points="488.4,694.8 484.3,699.7 480.2,704.5 474.6,707.9 470.5,712.7 466.6,717.9 460.9,721.0 456.4,725.6 452.3,730.5 446.6,733.6 441.8,737.8 436.8,743.7 430.0,747.5 423.9,752.1 423.5,759.6 420.4,766.4 414.5,770.5 407.6,772.4 400.6,774.1 395.1,779.0 388.1,780.8 382.3,785.1 375.4,787.6 368.6,790.3 363.1,795.1 359.3,801.2 356.2,807.8 351.1,813.1 348.8,820.1 348.5,826.7 344.3,832.3 344.4,839.0 343.2,845.4 341.6,851.6 339.3,857.7 337.0,863.8 334.2,870.1 334.4,877.2 331.3,883.4 329.4,889.9 328.0,896.6 322.1,898.5 316.1,899.6 316.9,906.6 319.5,913.3 319.1,920.4 316.3,926.7 311.9,931.9 306.7,936.5 303.4,942.4 299.7,948.1 295.2,953.2 292.8,959.5 291.1,966.0 289.4,972.6 285.8,978.4 284.0,984.9 283.2,991.8 280.3,997.9 277.1,1003.8 274.3,1009.8 270.3,1015.2 267.8,1021.4 265.5,1027.7 269.1,1034.9 271.4,1042.6 265.3,1049.3 261.7,1057.7 256.7,1061.6 250.8,1063.5 244.8,1065.3 239.6,1068.8 235.1,1073.3 239.1,1078.7 241.1,1085.1 244.0,1091.0 242.7,1098.2 238.2,1104.1 235.2,1110.7 233.1,1117.6 230.7,1124.3 233.0,1130.4 237.9,1135.0 240.1,1141.2 244.0,1146.4 245.9,1152.4 248.2,1158.4 250.6,1164.2 248.5,1170.1 245.2,1175.6 244.0,1181.9 243.7,1190.9 246.2,1199.6" fill="none" stroke="#c6d0d9" stroke-width="1.3" stroke-linecap="round" stroke-linejoin="round"/>
<polyline points="656.7,734.2 659.9,739.8 660.1,746.7 663.8,752.1 671.3,752.7 678.0,756.3 685.6,756.2 692.5,759.3 698.3,762.2 703.2,766.4 702.3,773.7 705.6,780.6 704.9,787.9 706.2,795.0 706.8,802.2 705.7,808.2 704.4,814.1 704.2,820.3 701.0,825.9 702.1,832.3 699.6,838.0 690.0,840.0 688.3,847.1 686.4,854.2 682.4,860.5 682.3,866.6 681.0,872.5 679.8,878.4 681.2,884.9 685.3,890.2 687.5,896.4 697.8,901.5" fill="none" stroke="#c6d0d9" stroke-width="1.3" stroke-linecap="round" stroke-linejoin="round"/>
<polyline points="756.9,848.8 752.2,853.7 747.7,858.6 742.6,863.1 740.8,869.4 735.8,874.1 735.4,881.1 731.1,886.1 733.6,892.5 736.2,898.9 739.4,905.6 745.8,910.1 749.0,916.9 752.3,923.8 755.5,930.7 759.3,937.4" fill="none" stroke="#c6d0d9" stroke-width="1.3" stroke-linecap="round" stroke-linejoin="round"/>
<polyline points="554.3,847.7 558.4,853.8 563.0,859.5 567.1,865.6 573.5,868.2" fill="none" stroke="#c6d0d9" stroke-width="1.3" stroke-linecap="round" stroke-linejoin="round"/>
<polyline points="110.0,450.0 106.8,456.7 103.2,463.2 100.0,470.0 97.7,475.8 98.1,482.0 97.0,488.0 95.7,494.0 95.0,500.0" fill="none" stroke="#c6d0d9" stroke-width="1.3" stroke-linecap="round" stroke-linejoin="round"/>
<path d="M48.0,197.7 C49.4,198.4 47.3,199.1 56.2,201.8 C65.1,204.5 89.0,212.4 101.3,214.1 C113.6,215.8 115.7,209.9 130.0,212.0 C144.3,214.1 170.7,226.4 187.4,226.4 C204.1,226.4 216.3,217.1 230.0,212.0 C243.7,206.9 251.9,198.8 269.4,195.7 C286.9,192.6 311.8,192.6 335.0,193.6 C358.2,194.6 394.4,199.1 408.8,201.8 C423.2,204.5 417.0,205.2 421.1,210.0 C425.2,214.8 430.7,218.9 433.4,230.5 C436.1,242.1 434.8,269.4 437.5,279.7 C440.2,289.9 442.3,288.6 449.8,292.0 C457.3,295.4 477.1,298.8 482.6,300.2" fill="none" stroke="#e7e8e8" stroke-width="4.4" stroke-linecap="round" stroke-linejoin="round"/><path d="M48.0,197.7 C49.4,198.4 47.3,199.1 56.2,201.8 C65.1,204.5 89.0,212.4 101.3,214.1 C113.6,215.8 115.7,209.9 130.0,212.0 C144.3,214.1 170.7,226.4 187.4,226.4 C204.1,226.4 216.3,217.1 230.0,212.0 C243.7,206.9 251.9,198.8 269.4,195.7 C286.9,192.6 311.8,192.6 335.0,193.6 C358.2,194.6 394.4,199.1 408.8,201.8 C423.2,204.5 417.0,205.2 421.1,210.0 C425.2,214.8 430.7,218.9 433.4,230.5 C436.1,242.1 434.8,269.4 437.5,279.7 C440.2,289.9 442.3,288.6 449.8,292.0 C457.3,295.4 477.1,298.8 482.6,300.2" fill="none" stroke="#ffffff" stroke-width="2.4" stroke-linecap="round" stroke-linejoin="round"/>
<path d="M101.3,214.1 C96.5,222.3 78.8,249.0 72.6,263.3 C66.4,277.7 65.1,288.6 64.4,300.2 C63.7,311.8 64.4,322.1 68.5,333.0 C72.6,343.9 82.8,356.9 89.0,365.8 C95.2,374.7 94.5,376.7 105.4,386.3 C116.3,395.9 138.2,408.9 154.6,423.2 C171.0,437.5 188.8,461.5 203.8,472.4 C218.8,483.3 234.4,481.6 244.8,488.8 C255.2,496.0 262.8,504.7 266.4,515.8 C270.0,526.9 261.0,546.2 266.4,555.2 C271.8,564.2 289.7,559.4 298.6,569.5 C307.6,579.6 314.1,604.7 320.1,616.0 C326.1,627.3 323.1,630.3 334.4,637.5 C345.7,644.7 366.0,649.5 388.1,659.0 C410.2,668.5 452.6,687.6 466.9,694.8 C481.2,702.0 469.9,696.0 474.1,702.0 C478.3,708.0 487.8,718.1 492.0,730.6 C496.2,743.1 498.2,759.3 499.1,777.2 C500.0,795.1 498.8,817.5 497.3,838.0 C495.8,858.5 491.4,882.8 490.0,900.0 C488.6,917.2 489.1,934.4 488.9,941.3" fill="none" stroke="#e7e8e8" stroke-width="4.4" stroke-linecap="round" stroke-linejoin="round"/><path d="M101.3,214.1 C96.5,222.3 78.8,249.0 72.6,263.3 C66.4,277.7 65.1,288.6 64.4,300.2 C63.7,311.8 64.4,322.1 68.5,333.0 C72.6,343.9 82.8,356.9 89.0,365.8 C95.2,374.7 94.5,376.7 105.4,386.3 C116.3,395.9 138.2,408.9 154.6,423.2 C171.0,437.5 188.8,461.5 203.8,472.4 C218.8,483.3 234.4,481.6 244.8,488.8 C255.2,496.0 262.8,504.7 266.4,515.8 C270.0,526.9 261.0,546.2 266.4,555.2 C271.8,564.2 289.7,559.4 298.6,569.5 C307.6,579.6 314.1,604.7 320.1,616.0 C326.1,627.3 323.1,630.3 334.4,637.5 C345.7,644.7 366.0,649.5 388.1,659.0 C410.2,668.5 452.6,687.6 466.9,694.8 C481.2,702.0 469.9,696.0 474.1,702.0 C478.3,708.0 487.8,718.1 492.0,730.6 C496.2,743.1 498.2,759.3 499.1,777.2 C500.0,795.1 498.8,817.5 497.3,838.0 C495.8,858.5 491.4,882.8 490.0,900.0 C488.6,917.2 489.1,934.4 488.9,941.3" fill="none" stroke="#ffffff" stroke-width="2.4" stroke-linecap="round" stroke-linejoin="round"/>
<path d="M482.6,300.2 C482.6,302.2 483.3,300.2 482.6,312.5 C481.9,324.8 477.8,354.2 478.5,374.0 C479.2,393.8 485.0,413.6 486.7,431.4 C488.4,449.2 488.1,466.2 488.8,480.6 C489.5,495.0 486.4,503.8 490.8,517.5 C495.2,531.2 511.0,551.0 515.4,562.6 C519.8,574.2 517.3,577.3 517.0,587.4 C516.7,597.5 517.1,614.2 513.5,623.2 C509.9,632.2 502.8,633.9 495.6,641.1 C488.4,648.3 475.3,657.2 470.5,666.2 C465.7,675.2 467.5,690.0 466.9,694.8" fill="none" stroke="#e7e8e8" stroke-width="4.4" stroke-linecap="round" stroke-linejoin="round"/><path d="M482.6,300.2 C482.6,302.2 483.3,300.2 482.6,312.5 C481.9,324.8 477.8,354.2 478.5,374.0 C479.2,393.8 485.0,413.6 486.7,431.4 C488.4,449.2 488.1,466.2 488.8,480.6 C489.5,495.0 486.4,503.8 490.8,517.5 C495.2,531.2 511.0,551.0 515.4,562.6 C519.8,574.2 517.3,577.3 517.0,587.4 C516.7,597.5 517.1,614.2 513.5,623.2 C509.9,632.2 502.8,633.9 495.6,641.1 C488.4,648.3 475.3,657.2 470.5,666.2 C465.7,675.2 467.5,690.0 466.9,694.8" fill="none" stroke="#ffffff" stroke-width="2.4" stroke-linecap="round" stroke-linejoin="round"/>
<path d="M482.6,300.2 C498.3,298.1 557.3,290.8 576.9,287.9 C596.5,285.0 584.9,288.1 600.0,282.8 C615.1,277.5 644.9,263.5 667.3,255.9 C689.7,248.3 714.4,239.4 734.6,237.4 C754.8,235.4 766.0,251.1 788.4,244.1 C810.8,237.1 844.5,207.4 869.2,195.3 C893.9,183.2 911.3,179.5 936.5,171.7 C961.7,163.8 1002.1,155.5 1020.6,148.2 C1039.1,140.9 1043.0,131.4 1047.5,128.0" fill="none" stroke="#e7e8e8" stroke-width="4.4" stroke-linecap="round" stroke-linejoin="round"/><path d="M482.6,300.2 C498.3,298.1 557.3,290.8 576.9,287.9 C596.5,285.0 584.9,288.1 600.0,282.8 C615.1,277.5 644.9,263.5 667.3,255.9 C689.7,248.3 714.4,239.4 734.6,237.4 C754.8,235.4 766.0,251.1 788.4,244.1 C810.8,237.1 844.5,207.4 869.2,195.3 C893.9,183.2 911.3,179.5 936.5,171.7 C961.7,163.8 1002.1,155.5 1020.6,148.2 C1039.1,140.9 1043.0,131.4 1047.5,128.0" fill="none" stroke="#ffffff" stroke-width="2.4" stroke-linecap="round" stroke-linejoin="round"/>
<path d="M1111.4,128.0 C1113.7,135.3 1121.5,156.0 1124.9,171.7 C1128.3,187.4 1132.7,207.0 1131.6,222.2 C1130.5,237.3 1119.3,249.1 1118.2,262.6 C1117.1,276.1 1120.4,289.6 1124.9,303.0 C1129.4,316.4 1142.3,322.0 1145.1,343.3 C1147.9,364.6 1143.1,407.2 1141.7,430.8 C1140.3,454.4 1137.5,475.7 1136.7,484.7" fill="none" stroke="#e7e8e8" stroke-width="4.4" stroke-linecap="round" stroke-linejoin="round"/><path d="M1111.4,128.0 C1113.7,135.3 1121.5,156.0 1124.9,171.7 C1128.3,187.4 1132.7,207.0 1131.6,222.2 C1130.5,237.3 1119.3,249.1 1118.2,262.6 C1117.1,276.1 1120.4,289.6 1124.9,303.0 C1129.4,316.4 1142.3,322.0 1145.1,343.3 C1147.9,364.6 1143.1,407.2 1141.7,430.8 C1140.3,454.4 1137.5,475.7 1136.7,484.7" fill="none" stroke="#ffffff" stroke-width="2.4" stroke-linecap="round" stroke-linejoin="round"/>
<path d="M1145.0,343.3 C1152.3,348.4 1178.1,363.5 1188.8,373.6 C1199.5,383.7 1200.6,391.5 1209.0,403.9 C1217.4,416.2 1230.3,434.2 1239.3,447.7 C1248.3,461.2 1259.0,478.5 1262.9,484.7" fill="none" stroke="#e7e8e8" stroke-width="4.4" stroke-linecap="round" stroke-linejoin="round"/><path d="M1145.0,343.3 C1152.3,348.4 1178.1,363.5 1188.8,373.6 C1199.5,383.7 1200.6,391.5 1209.0,403.9 C1217.4,416.2 1230.3,434.2 1239.3,447.7 C1248.3,461.2 1259.0,478.5 1262.9,484.7" fill="none" stroke="#ffffff" stroke-width="2.4" stroke-linecap="round" stroke-linejoin="round"/>
<path d="M599.4,691.2 C604.2,690.6 618.5,691.3 628.0,687.7 C637.5,684.1 646.0,674.0 656.7,669.8 C667.5,665.6 680.6,665.0 692.5,662.6 C704.4,660.2 716.4,654.8 728.3,655.4 C740.2,656.0 750.5,661.4 764.1,666.2 C777.7,671.0 795.6,678.4 809.9,684.0 C824.2,689.6 843.3,697.3 850.0,700.0" fill="none" stroke="#e7e8e8" stroke-width="4.4" stroke-linecap="round" stroke-linejoin="round"/><path d="M599.4,691.2 C604.2,690.6 618.5,691.3 628.0,687.7 C637.5,684.1 646.0,674.0 656.7,669.8 C667.5,665.6 680.6,665.0 692.5,662.6 C704.4,660.2 716.4,654.8 728.3,655.4 C740.2,656.0 750.5,661.4 764.1,666.2 C777.7,671.0 795.6,678.4 809.9,684.0 C824.2,689.6 843.3,697.3 850.0,700.0" fill="none" stroke="#ffffff" stroke-width="2.4" stroke-linecap="round" stroke-linejoin="round"/>
<path d="M48.0,801.0 C62.4,801.5 106.6,795.0 134.4,804.0 C162.2,813.0 199.4,842.5 214.8,855.0 C230.2,867.5 215.8,868.8 226.7,878.7 C237.6,888.6 265.4,907.0 280.3,914.5 C295.2,922.0 290.2,919.2 316.0,923.4 C341.8,927.6 406.2,936.8 435.0,939.8 C463.8,942.8 468.1,941.6 488.9,941.3 C509.7,941.0 534.8,939.9 560.0,938.0 C585.2,936.1 616.7,932.2 640.0,930.0 C663.3,927.8 680.0,924.2 700.0,925.0 C720.0,925.8 740.0,934.2 760.0,935.0 C780.0,935.8 810.0,930.8 820.0,930.0" fill="none" stroke="#e7e8e8" stroke-width="4.4" stroke-linecap="round" stroke-linejoin="round"/><path d="M48.0,801.0 C62.4,801.5 106.6,795.0 134.4,804.0 C162.2,813.0 199.4,842.5 214.8,855.0 C230.2,867.5 215.8,868.8 226.7,878.7 C237.6,888.6 265.4,907.0 280.3,914.5 C295.2,922.0 290.2,919.2 316.0,923.4 C341.8,927.6 406.2,936.8 435.0,939.8 C463.8,942.8 468.1,941.6 488.9,941.3 C509.7,941.0 534.8,939.9 560.0,938.0 C585.2,936.1 616.7,932.2 640.0,930.0 C663.3,927.8 680.0,924.2 700.0,925.0 C720.0,925.8 740.0,934.2 760.0,935.0 C780.0,935.8 810.0,930.8 820.0,930.0" fill="none" stroke="#ffffff" stroke-width="2.4" stroke-linecap="round" stroke-linejoin="round"/>
<path d="M48.3,1100.8 C55.2,1101.5 78.8,1100.8 89.9,1105.0 C101.0,1109.2 103.1,1120.2 114.8,1125.7 C126.5,1131.2 145.9,1136.4 160.0,1138.0 C174.1,1139.6 186.3,1135.4 199.6,1135.3 C212.9,1135.2 229.5,1137.5 239.6,1137.6 C249.7,1137.7 252.0,1133.9 260.3,1136.1 C268.6,1138.3 277.6,1144.8 289.4,1150.7 C301.2,1156.6 315.8,1164.6 331.0,1171.5 C346.2,1178.4 360.0,1188.8 380.8,1192.3 C401.6,1195.8 436.2,1194.4 455.6,1192.3 C475.0,1190.2 486.8,1185.3 497.2,1179.8 C507.6,1174.2 510.9,1167.3 518.0,1159.0 C525.1,1150.7 533.0,1136.5 540.0,1130.0 C547.0,1123.5 556.7,1121.7 560.0,1120.0" fill="none" stroke="#e7e8e8" stroke-width="4.4" stroke-linecap="round" stroke-linejoin="round"/><path d="M48.3,1100.8 C55.2,1101.5 78.8,1100.8 89.9,1105.0 C101.0,1109.2 103.1,1120.2 114.8,1125.7 C126.5,1131.2 145.9,1136.4 160.0,1138.0 C174.1,1139.6 186.3,1135.4 199.6,1135.3 C212.9,1135.2 229.5,1137.5 239.6,1137.6 C249.7,1137.7 252.0,1133.9 260.3,1136.1 C268.6,1138.3 277.6,1144.8 289.4,1150.7 C301.2,1156.6 315.8,1164.6 331.0,1171.5 C346.2,1178.4 360.0,1188.8 380.8,1192.3 C401.6,1195.8 436.2,1194.4 455.6,1192.3 C475.0,1190.2 486.8,1185.3 497.2,1179.8 C507.6,1174.2 510.9,1167.3 518.0,1159.0 C525.1,1150.7 533.0,1136.5 540.0,1130.0 C547.0,1123.5 556.7,1121.7 560.0,1120.0" fill="none" stroke="#ffffff" stroke-width="2.4" stroke-linecap="round" stroke-linejoin="round"/>
<path d="M48,1113 L81.6,1134 L123,1167 L164.7,1192 L206,1205 L239.5,1202.6 L272.7,1217 L331,1238 L372.5,1258.7 L414,1283.7 L455.6,1296 L491,1304.5 L518,1296 L538.8,1283.7 L559.5,1258.7 L572,1233.8 L592.8,1213 L622,1192 L655,1167 L688,1134 L713,1109 L730,1084 L746.6,1059 L759,1034 L771.5,1009 L788,992.7 L809.7,984 L900,960 L900,1347 L48,1347 Z" fill="#d5d9dc"/>
<text x="66" y="312.8" class="lb1">Uckfield</text>
<text x="470.5" y="309.6" class="lb1">Heathfield</text>
<text x="493" y="761.2" class="lb1">Hailsham</text>
<text x="462" y="938.7" class="lb1">Polegate</text>
<text x="85" y="1154.8" class="lb1">Seaford</text>
<text x="536.7" y="1179.8" class="lb1">Eastbourne</text>
<rect x="652.10" y="944.31" width="26.69" height="42.33" fill="rgba(209,75,65,0.42)" stroke="rgb(224,96,72)" stroke-width="2"/>
<rect x="678.79" y="986.64" width="26.69" height="42.33" fill="rgba(209,75,65,0.42)" stroke="rgb(224,96,72)" stroke-width="2"/>
<rect x="652.10" y="1071.30" width="26.69" height="42.33" fill="rgba(209,75,65,0.42)" stroke="rgb(224,96,72)" stroke-width="2"/>
<rect x="545.34" y="648.00" width="26.69" height="42.33" fill="rgba(197,111,38,0.42)" stroke="rgb(208,128,60)" stroke-width="2"/>
<rect x="572.03" y="732.66" width="26.69" height="42.33" fill="rgba(197,111,38,0.42)" stroke="rgb(208,128,60)" stroke-width="2"/>
<rect x="652.10" y="901.98" width="26.69" height="42.33" fill="rgba(197,111,38,0.42)" stroke="rgb(208,128,60)" stroke-width="2"/>
<rect x="625.41" y="944.31" width="26.69" height="42.33" fill="rgba(197,111,38,0.42)" stroke="rgb(208,128,60)" stroke-width="2"/>
<rect x="625.41" y="1071.30" width="26.69" height="42.33" fill="rgba(197,111,38,0.42)" stroke="rgb(208,128,60)" stroke-width="2"/>
<rect x="625.41" y="1113.63" width="26.69" height="42.33" fill="rgba(197,111,38,0.42)" stroke="rgb(208,128,60)" stroke-width="2"/>
<rect x="518.65" y="690.33" width="26.69" height="42.33" fill="rgba(187,123,34,0.42)" stroke="rgb(200,144,58)" stroke-width="2"/>
<rect x="518.65" y="732.66" width="26.69" height="42.33" fill="rgba(187,123,34,0.42)" stroke="rgb(200,144,58)" stroke-width="2"/>
<rect x="518.65" y="901.98" width="26.69" height="42.33" fill="rgba(187,123,34,0.42)" stroke="rgb(200,144,58)" stroke-width="2"/>
<rect x="572.03" y="986.64" width="26.69" height="42.33" fill="rgba(187,123,34,0.42)" stroke="rgb(200,144,58)" stroke-width="2"/>
<rect x="598.72" y="986.64" width="26.69" height="42.33" fill="rgba(187,123,34,0.42)" stroke="rgb(200,144,58)" stroke-width="2"/>
<rect x="705.48" y="1028.97" width="26.69" height="42.33" fill="rgba(187,123,34,0.42)" stroke="rgb(200,144,58)" stroke-width="2"/>
<rect x="518.65" y="648.00" width="26.69" height="42.33" fill="rgba(178,142,29,0.42)" stroke="rgb(184,156,58)" stroke-width="2"/>
<rect x="545.34" y="732.66" width="26.69" height="42.33" fill="rgba(178,142,29,0.42)" stroke="rgb(184,156,58)" stroke-width="2"/>
<rect x="625.41" y="901.98" width="26.69" height="42.33" fill="rgba(178,142,29,0.42)" stroke="rgb(184,156,58)" stroke-width="2"/>
<rect x="518.65" y="944.31" width="26.69" height="42.33" fill="rgba(178,142,29,0.42)" stroke="rgb(184,156,58)" stroke-width="2"/>
<rect x="678.79" y="1028.97" width="26.69" height="42.33" fill="rgba(178,142,29,0.42)" stroke="rgb(184,156,58)" stroke-width="2"/>
<rect x="518.65" y="1071.30" width="26.69" height="42.33" fill="rgba(178,142,29,0.42)" stroke="rgb(184,156,58)" stroke-width="2"/>
<rect x="545.34" y="1071.30" width="26.69" height="42.33" fill="rgba(178,142,29,0.42)" stroke="rgb(184,156,58)" stroke-width="2"/>
<rect x="598.72" y="1113.63" width="26.69" height="42.33" fill="rgba(178,142,29,0.42)" stroke="rgb(184,156,58)" stroke-width="2"/>
<rect x="572.03" y="648.00" width="26.69" height="42.33" fill="rgba(161,154,31,0.42)" stroke="rgb(170,168,64)" stroke-width="2"/>
<rect x="491.96" y="690.33" width="26.69" height="42.33" fill="rgba(161,154,31,0.42)" stroke="rgb(170,168,64)" stroke-width="2"/>
<rect x="491.96" y="901.98" width="26.69" height="42.33" fill="rgba(161,154,31,0.42)" stroke="rgb(170,168,64)" stroke-width="2"/>
<rect x="545.34" y="901.98" width="26.69" height="42.33" fill="rgba(161,154,31,0.42)" stroke="rgb(170,168,64)" stroke-width="2"/>
<rect x="572.03" y="901.98" width="26.69" height="42.33" fill="rgba(161,154,31,0.42)" stroke="rgb(170,168,64)" stroke-width="2"/>
<rect x="545.34" y="944.31" width="26.69" height="42.33" fill="rgba(161,154,31,0.42)" stroke="rgb(170,168,64)" stroke-width="2"/>
<rect x="572.03" y="944.31" width="26.69" height="42.33" fill="rgba(161,154,31,0.42)" stroke="rgb(170,168,64)" stroke-width="2"/>
<rect x="705.48" y="986.64" width="26.69" height="42.33" fill="rgba(161,154,31,0.42)" stroke="rgb(170,168,64)" stroke-width="2"/>
<rect x="732.17" y="1028.97" width="26.69" height="42.33" fill="rgba(161,154,31,0.42)" stroke="rgb(170,168,64)" stroke-width="2"/>
<rect x="572.03" y="1071.30" width="26.69" height="42.33" fill="rgba(161,154,31,0.42)" stroke="rgb(170,168,64)" stroke-width="2"/>
<rect x="171.68" y="1071.30" width="26.69" height="42.33" fill="rgba(161,154,31,0.42)" stroke="rgb(170,168,64)" stroke-width="2"/>
<rect x="545.34" y="309.36" width="26.69" height="42.33" fill="rgba(154,158,35,0.42)" stroke="rgb(166,173,66)" stroke-width="2"/>
<rect x="118.30" y="224.70" width="26.69" height="42.33" fill="rgba(152,159,36,0.42)" stroke="rgb(164,174,67)" stroke-width="2"/>
<rect x="118.30" y="309.36" width="26.69" height="42.33" fill="rgba(152,159,36,0.42)" stroke="rgb(164,174,67)" stroke-width="2"/>
<rect x="518.65" y="267.03" width="26.69" height="42.33" fill="rgba(146,164,40,0.42)" stroke="rgb(160,179,70)" stroke-width="2"/>
<rect x="144.99" y="224.70" width="26.69" height="42.33" fill="rgba(139,168,43,0.42)" stroke="rgb(156,184,72)" stroke-width="2"/>
<rect x="144.99" y="309.36" width="26.69" height="42.33" fill="rgba(139,168,43,0.42)" stroke="rgb(156,184,72)" stroke-width="2"/>
<rect x="572.03" y="605.67" width="26.69" height="42.33" fill="rgba(139,168,43,0.42)" stroke="rgb(156,184,72)" stroke-width="2"/>
<rect x="705.48" y="605.67" width="26.69" height="42.33" fill="rgba(139,168,43,0.42)" stroke="rgb(156,184,72)" stroke-width="2"/>
<rect x="545.34" y="690.33" width="26.69" height="42.33" fill="rgba(139,168,43,0.42)" stroke="rgb(156,184,72)" stroke-width="2"/>
<rect x="598.72" y="901.98" width="26.69" height="42.33" fill="rgba(139,168,43,0.42)" stroke="rgb(156,184,72)" stroke-width="2"/>
<rect x="705.48" y="901.98" width="26.69" height="42.33" fill="rgba(139,168,43,0.42)" stroke="rgb(156,184,72)" stroke-width="2"/>
<rect x="491.96" y="944.31" width="26.69" height="42.33" fill="rgba(139,168,43,0.42)" stroke="rgb(156,184,72)" stroke-width="2"/>
<rect x="598.72" y="944.31" width="26.69" height="42.33" fill="rgba(139,168,43,0.42)" stroke="rgb(156,184,72)" stroke-width="2"/>
<rect x="678.79" y="944.31" width="26.69" height="42.33" fill="rgba(139,168,43,0.42)" stroke="rgb(156,184,72)" stroke-width="2"/>
<rect x="785.55" y="944.31" width="26.69" height="42.33" fill="rgba(139,168,43,0.42)" stroke="rgb(156,184,72)" stroke-width="2"/>
<rect x="518.65" y="986.64" width="26.69" height="42.33" fill="rgba(139,168,43,0.42)" stroke="rgb(156,184,72)" stroke-width="2"/>
<rect x="545.34" y="986.64" width="26.69" height="42.33" fill="rgba(139,168,43,0.42)" stroke="rgb(156,184,72)" stroke-width="2"/>
<rect x="652.10" y="986.64" width="26.69" height="42.33" fill="rgba(139,168,43,0.42)" stroke="rgb(156,184,72)" stroke-width="2"/>
<rect x="732.17" y="986.64" width="26.69" height="42.33" fill="rgba(139,168,43,0.42)" stroke="rgb(156,184,72)" stroke-width="2"/>
<rect x="518.65" y="1028.97" width="26.69" height="42.33" fill="rgba(139,168,43,0.42)" stroke="rgb(156,184,72)" stroke-width="2"/>
<rect x="678.79" y="1071.30" width="26.69" height="42.33" fill="rgba(139,168,43,0.42)" stroke="rgb(156,184,72)" stroke-width="2"/>
<rect x="545.34" y="1113.63" width="26.69" height="42.33" fill="rgba(139,168,43,0.42)" stroke="rgb(156,184,72)" stroke-width="2"/>
<rect x="118.30" y="1071.30" width="26.69" height="42.33" fill="rgba(139,168,43,0.42)" stroke="rgb(156,184,72)" stroke-width="2"/>
<rect x="144.99" y="1071.30" width="26.69" height="42.33" fill="rgba(139,168,43,0.42)" stroke="rgb(156,184,72)" stroke-width="2"/>
<rect x="198.37" y="1071.30" width="26.69" height="42.33" fill="rgba(139,168,43,0.42)" stroke="rgb(156,184,72)" stroke-width="2"/>
<rect x="545.34" y="267.03" width="26.69" height="42.33" fill="rgba(129,173,53,0.42)" stroke="rgb(144,186,78)" stroke-width="2"/>
<rect x="118.30" y="267.03" width="26.69" height="42.33" fill="rgba(125,175,58,0.42)" stroke="rgb(139,187,80)" stroke-width="2"/>
<rect x="491.96" y="436.35" width="26.69" height="42.33" fill="rgba(125,175,58,0.42)" stroke="rgb(139,187,80)" stroke-width="2"/>
<rect x="518.65" y="436.35" width="26.69" height="42.33" fill="rgba(125,175,58,0.42)" stroke="rgb(139,187,80)" stroke-width="2"/>
<rect x="545.34" y="605.67" width="26.69" height="42.33" fill="rgba(125,175,58,0.42)" stroke="rgb(139,187,80)" stroke-width="2"/>
<rect x="491.96" y="648.00" width="26.69" height="42.33" fill="rgba(125,175,58,0.42)" stroke="rgb(139,187,80)" stroke-width="2"/>
<rect x="491.96" y="732.66" width="26.69" height="42.33" fill="rgba(125,175,58,0.42)" stroke="rgb(139,187,80)" stroke-width="2"/>
<rect x="545.34" y="774.99" width="26.69" height="42.33" fill="rgba(125,175,58,0.42)" stroke="rgb(139,187,80)" stroke-width="2"/>
<rect x="518.65" y="859.65" width="26.69" height="42.33" fill="rgba(125,175,58,0.42)" stroke="rgb(139,187,80)" stroke-width="2"/>
<rect x="678.79" y="901.98" width="26.69" height="42.33" fill="rgba(125,175,58,0.42)" stroke="rgb(139,187,80)" stroke-width="2"/>
<rect x="545.34" y="1028.97" width="26.69" height="42.33" fill="rgba(125,175,58,0.42)" stroke="rgb(139,187,80)" stroke-width="2"/>
<rect x="518.65" y="1113.63" width="26.69" height="42.33" fill="rgba(125,175,58,0.42)" stroke="rgb(139,187,80)" stroke-width="2"/>
<rect x="572.03" y="1113.63" width="26.69" height="42.33" fill="rgba(125,175,58,0.42)" stroke="rgb(139,187,80)" stroke-width="2"/>
<rect x="652.10" y="1113.63" width="26.69" height="42.33" fill="rgba(125,175,58,0.42)" stroke="rgb(139,187,80)" stroke-width="2"/>
<rect x="572.03" y="1155.96" width="26.69" height="42.33" fill="rgba(125,175,58,0.42)" stroke="rgb(139,187,80)" stroke-width="2"/>
<rect x="598.72" y="1155.96" width="26.69" height="42.33" fill="rgba(125,175,58,0.42)" stroke="rgb(139,187,80)" stroke-width="2"/>
<rect x="118.30" y="1113.63" width="26.69" height="42.33" fill="rgba(125,175,58,0.42)" stroke="rgb(139,187,80)" stroke-width="2"/>
<rect x="144.99" y="1113.63" width="26.69" height="42.33" fill="rgba(125,175,58,0.42)" stroke="rgb(139,187,80)" stroke-width="2"/>
<rect x="171.68" y="1113.63" width="26.69" height="42.33" fill="rgba(125,175,58,0.42)" stroke="rgb(139,187,80)" stroke-width="2"/>
  </svg>
</div>

<!-- ZIP CARD -->
<div class="card" style="left:810px;top:486px;width:1146px;height:942px;box-shadow:0 2px 14px rgba(0,0,0,0.08)">
  <div class="title" style="left:32px;top:40px;transform:scaleX(0.946);transform-origin:0 0">ZIP code targeting</div>
  <div class="t" style="left:51px;top:238.5px">92653</div>
<div class="t" style="left:371.8px;letter-spacing:-0.3px;top:238.5px">2.91 miles</div>
<div class="t" style="left:51px;top:308.5px">92609</div>
<div class="t" style="left:371.8px;letter-spacing:-0.3px;top:308.5px">3.17 miles</div>
<div class="t" style="left:51px;top:379.0px">92637</div>
<div class="t" style="left:371.8px;letter-spacing:-0.3px;top:379.0px">3.73 miles</div>
<div class="t r" style="right:418.5px;top:379.0px">17</div>
<div class="t r" style="right:31.5px;top:379.0px">2,603</div>
<div class="t" style="left:51px;top:449.0px">92651</div>
<div class="t" style="left:371.8px;letter-spacing:-0.3px;top:449.0px">5.35 miles</div>
<div class="t r" style="right:418.5px;top:449.0px">37</div>
<div class="t r" style="right:31.5px;top:449.0px">4,566</div>
<div class="t" style="left:51px;top:519.0px">92607</div>
<div class="t" style="left:371.8px;letter-spacing:-0.3px;top:519.0px">6.0 miles</div>
<div class="t r" style="right:418.5px;top:519.0px">47</div>
<div class="t r" style="right:31.5px;top:519.0px">6,142</div>
<div class="t" style="left:51px;top:589.0px">92677</div>
<div class="t" style="left:371.8px;letter-spacing:-0.3px;top:589.0px">4.89 miles</div>
<div class="t r" style="right:418.5px;top:589.0px">48</div>
<div class="t r" style="right:31.5px;top:589.0px">5,085</div>
<div class="t" style="left:51px;top:659.0px">92690</div>
<div class="t" style="left:371.8px;letter-spacing:-0.3px;top:659.0px">6.17 miles</div>
<div class="t r" style="right:418.5px;top:659.0px">32</div>
<div class="t r" style="right:31.5px;top:659.0px">4,830</div>
<div class="t" style="left:51px;top:729.0px">92652</div>
<div class="t" style="left:371.8px;letter-spacing:-0.3px;top:729.0px">6.0 miles</div>
<div class="t r" style="right:418.5px;top:729.0px">99</div>
<div class="t r" style="right:31.5px;top:729.0px">10,089</div>
<div class="t" style="left:51px;top:798.5px">92603</div>
<div class="t" style="left:371.8px;letter-spacing:-0.3px;top:798.5px">8.3 miles</div>
<div class="t r" style="right:418.5px;top:798.5px">107</div>
<div class="t r" style="right:31.5px;top:798.5px">10,847</div>
<div class="t" style="left:51px;top:865.0px">92692</div>
<div class="t" style="left:371.8px;letter-spacing:-0.3px;top:866.0px">8.39 miles</div>
<div class="t r" style="right:418.5px;top:869.0px">61</div>
<div class="t r" style="right:31.5px;top:869.0px">9,300</div>
<div class="hl" style="left:32px;width:1098px;top:216px"></div>
<div class="hl" style="left:32px;width:1098px;top:284px"></div>
<div class="hl" style="left:32px;width:1098px;top:354px"></div>
<div class="hl" style="left:32px;width:1098px;top:424px"></div>
<div class="hl" style="left:32px;width:1098px;top:494px"></div>
<div class="hl" style="left:32px;width:1098px;top:564px"></div>
<div class="hl" style="left:32px;width:1098px;top:634px"></div>
<div class="hl" style="left:32px;width:1098px;top:704px"></div>
<div class="hl" style="left:32px;width:1098px;top:774px"></div>
<div class="hl" style="left:32px;width:1098px;top:844px"></div>
<div class="hl" style="left:32px;width:1098px;top:900px"></div>
<div class="pill" style="left:48.5px;top:159.5px;width:84px;height:44px"></div>
<div class="pill" style="left:361.5px;top:159.5px;width:121px;height:44px"></div>
<div class="t" style="left:64px;top:170.8px;color:#1c9f8b;-webkit-text-stroke:0.3px #1c9f8b">Code</div>
<div class="t" style="left:377.5px;top:170.8px;color:#1c9f8b;-webkit-text-stroke:0.3px #1c9f8b">Distance</div>
</div>

<!-- GROWTH CARD -->
<div class="card" style="left:1316px;top:90px;width:796px;height:735px;box-shadow:0 2px 14px rgba(0,0,0,0.08)">
  <div class="title" style="left:32px;top:40px;transform:scaleX(0.948);transform-origin:0 0">Growth areas to target</div>
  <svg class="map" style="left:32px;top:96px" width="732" height="607" viewBox="1348 186 732 607" id="map2">
    <rect x="1348" y="186" width="732" height="607" fill="#f9f9f8"/>
    <defs><filter id="blur" x="-50%" y="-50%" width="200%" height="200%"><feGaussianBlur stdDeviation="2.6"/></filter></defs>
<path d="M1348,470 L1400,478 L1480,474 L1540,478 L1560,520 L1552,600 L1562.8,646.7 L1556,660 L1549.3,670.2 L1527,674.7 L1493.4,673.6 L1473.3,668 L1459.9,658 L1442,646.7 L1415,635.5 L1392.7,626.6 L1370.4,628.8 L1348,624.4 Z" fill="#f3f5f2"/>
<path d="M1410.4,280.4 C1410.3,281.2 1410.6,282.9 1409.7,285.2 C1408.8,287.6 1406.9,292.7 1405.1,294.3 C1403.2,295.9 1400.6,294.1 1398.6,294.8 C1396.7,295.5 1395.0,298.2 1393.3,298.4 C1391.5,298.6 1390.4,296.1 1387.9,296.1 C1385.3,296.1 1379.9,300.0 1377.8,298.6 C1375.7,297.2 1376.1,291.0 1375.1,287.7 C1374.1,284.4 1372.4,281.5 1371.6,278.8 C1370.9,276.1 1370.1,274.3 1370.8,271.5 C1371.5,268.7 1373.4,263.1 1375.9,261.8 C1378.4,260.4 1383.1,264.4 1385.6,263.5 C1388.1,262.6 1388.3,257.3 1391.0,256.4 C1393.8,255.6 1399.1,257.4 1402.2,258.3 C1405.3,259.2 1407.5,259.6 1409.6,261.9 C1411.6,264.2 1414.4,268.9 1414.5,272.0 C1414.6,275.1 1411.1,279.0 1410.4,280.4 Z" fill="#f1f3f0"/>
<path d="M1519.8,419.5 C1519.0,420.9 1516.2,425.5 1515.1,428.3 C1514.1,431.2 1514.7,433.6 1513.8,436.5 C1512.8,439.4 1511.3,444.0 1509.2,446.0 C1507.1,448.0 1503.5,449.5 1501.1,448.6 C1498.7,447.7 1497.7,442.1 1495.0,440.6 C1492.3,439.2 1486.3,442.3 1484.7,439.9 C1483.2,437.5 1486.7,429.8 1485.9,426.3 C1485.0,422.9 1480.4,421.8 1479.6,419.3 C1478.8,416.8 1480.0,414.9 1481.1,411.4 C1482.1,408.0 1484.0,400.9 1485.8,398.5 C1487.6,396.1 1489.3,398.1 1491.7,396.9 C1494.0,395.8 1497.6,390.0 1499.8,391.5 C1502.1,392.9 1502.6,403.8 1505.2,405.6 C1507.8,407.5 1513.0,402.5 1515.4,402.8 C1517.8,403.2 1518.7,405.1 1519.5,407.9 C1520.2,410.7 1519.8,417.5 1519.8,419.5 Z" fill="#f1f3f0"/>
<path d="M1832.6,227.3 C1832.0,228.4 1831.5,232.7 1829.0,234.3 C1826.4,235.8 1820.0,234.4 1817.3,236.5 C1814.6,238.6 1816.0,245.3 1812.9,247.0 C1809.7,248.7 1802.5,247.6 1798.4,246.7 C1794.3,245.7 1791.0,242.9 1788.5,241.3 C1786.0,239.6 1785.1,238.1 1783.3,236.8 C1781.5,235.4 1780.7,235.5 1777.6,233.1 C1774.5,230.7 1767.0,225.7 1764.7,222.5 C1762.5,219.2 1761.5,216.0 1764.2,213.5 C1766.9,211.1 1776.5,209.3 1781.0,207.9 C1785.5,206.5 1787.8,207.0 1791.2,205.1 C1794.6,203.2 1798.0,197.1 1801.6,196.3 C1805.1,195.5 1809.9,197.8 1812.6,200.5 C1815.3,203.3 1815.8,209.8 1817.8,212.8 C1819.8,215.8 1822.2,216.0 1824.7,218.5 C1827.1,220.9 1831.3,225.8 1832.6,227.3 Z" fill="#f1f3f0"/>
<path d="M1945.6,308.1 C1945.4,309.5 1947.3,314.7 1944.4,316.8 C1941.5,318.8 1931.6,319.3 1928.2,320.5 C1924.7,321.7 1925.7,322.5 1923.6,323.9 C1921.4,325.3 1918.4,329.1 1915.5,328.8 C1912.6,328.5 1909.2,323.3 1905.9,322.3 C1902.7,321.2 1897.3,323.8 1896.0,322.5 C1894.6,321.2 1898.5,316.5 1897.7,314.5 C1896.9,312.5 1892.5,312.6 1891.1,310.3 C1889.7,308.1 1887.9,303.0 1889.6,301.2 C1891.2,299.5 1897.6,300.5 1900.8,299.8 C1904.0,299.2 1906.7,297.6 1909.0,297.2 C1911.2,296.8 1911.5,298.0 1914.4,297.3 C1917.3,296.6 1922.7,292.8 1926.3,292.7 C1929.9,292.7 1933.9,295.1 1936.1,297.0 C1938.3,298.9 1938.0,302.1 1939.6,304.0 C1941.2,305.8 1944.6,307.4 1945.6,308.1 Z" fill="#f1f3f0"/>
<path d="M2052.9,297.8 C2052.5,300.4 2051.4,309.6 2050.8,313.9 C2050.3,318.2 2051.4,320.8 2049.7,323.5 C2047.9,326.3 2043.6,328.3 2040.5,330.5 C2037.5,332.8 2034.3,337.5 2031.5,336.9 C2028.7,336.2 2026.3,330.2 2023.7,326.7 C2021.2,323.1 2018.1,318.2 2016.2,315.5 C2014.3,312.8 2014.0,312.9 2012.2,310.5 C2010.3,308.0 2006.6,305.7 2005.1,300.8 C2003.5,295.9 2002.3,285.5 2003.0,281.1 C2003.8,276.8 2006.3,275.4 2009.6,274.8 C2012.9,274.2 2019.6,278.1 2022.9,277.6 C2026.1,277.0 2025.9,274.3 2029.0,271.5 C2032.1,268.8 2038.9,259.2 2041.3,261.3 C2043.8,263.4 2042.2,279.2 2043.6,283.9 C2045.0,288.7 2048.0,287.4 2049.5,289.7 C2051.1,292.0 2052.3,296.4 2052.9,297.8 Z" fill="#f1f3f0"/>
<path d="M1720.8,228.9 C1719.9,230.1 1716.4,233.4 1715.9,235.7 C1715.4,237.9 1719.2,241.2 1717.5,242.3 C1715.9,243.4 1708.8,241.2 1705.9,242.1 C1702.9,243.0 1702.3,247.0 1699.7,247.8 C1697.1,248.7 1692.8,248.4 1690.0,247.3 C1687.2,246.3 1684.5,243.5 1683.0,241.4 C1681.4,239.3 1682.3,236.4 1681.0,234.7 C1679.6,232.9 1674.2,232.5 1674.9,231.0 C1675.6,229.5 1683.6,227.7 1685.2,225.7 C1686.8,223.8 1683.0,220.9 1684.5,219.3 C1686.0,217.7 1691.5,217.6 1694.4,216.1 C1697.4,214.6 1700.2,210.6 1702.2,210.4 C1704.3,210.2 1704.5,213.7 1706.7,215.0 C1709.0,216.2 1714.5,216.0 1715.7,217.9 C1716.9,219.7 1713.0,224.0 1713.9,225.9 C1714.7,227.7 1719.6,228.4 1720.8,228.9 Z" fill="#f1f3f0"/>
<path d="M1620.3,259.8 C1620.6,260.7 1622.5,263.6 1621.9,265.4 C1621.3,267.3 1619.1,269.3 1616.9,270.9 C1614.8,272.4 1611.9,274.6 1608.9,274.5 C1606.0,274.5 1601.8,271.2 1599.2,270.4 C1596.6,269.5 1595.0,269.9 1593.2,269.4 C1591.4,268.8 1590.8,267.7 1588.7,266.9 C1586.5,266.2 1581.9,265.9 1580.1,264.7 C1578.4,263.5 1577.6,261.5 1578.1,259.7 C1578.6,257.8 1581.2,254.9 1583.2,253.6 C1585.3,252.3 1589.2,253.1 1590.5,251.9 C1591.8,250.6 1589.3,247.7 1591.0,246.2 C1592.6,244.7 1597.8,242.4 1600.5,242.8 C1603.3,243.2 1605.4,247.5 1607.5,248.7 C1609.5,249.9 1610.4,249.5 1612.8,250.1 C1615.3,250.7 1620.9,250.7 1622.2,252.3 C1623.4,254.0 1620.6,258.6 1620.3,259.8 Z" fill="#f1f3f0"/>
<path d="M1977.6,220.4 C1977.7,221.5 1979.6,225.5 1978.4,226.8 C1977.2,228.0 1971.8,226.4 1970.2,227.9 C1968.6,229.4 1970.2,234.7 1968.7,235.7 C1967.2,236.8 1963.8,234.2 1961.1,234.5 C1958.4,234.8 1955.6,237.7 1952.4,237.4 C1949.3,237.1 1944.6,234.9 1942.3,232.9 C1939.9,230.9 1938.0,227.8 1938.6,225.5 C1939.1,223.2 1944.6,220.9 1945.5,219.1 C1946.4,217.4 1944.0,216.7 1944.1,215.2 C1944.2,213.7 1945.0,212.1 1946.1,209.9 C1947.2,207.8 1948.6,202.9 1950.8,202.2 C1953.0,201.4 1956.7,204.2 1959.3,205.4 C1962.0,206.7 1964.9,208.7 1966.6,209.7 C1968.2,210.6 1966.6,210.4 1969.1,211.1 C1971.7,211.8 1980.4,212.4 1981.8,213.9 C1983.2,215.4 1978.3,219.3 1977.6,220.4 Z" fill="#f1f3f0"/>
<path d="M1905.8,353.4 C1905.0,355.1 1903.5,361.0 1900.9,363.4 C1898.3,365.8 1893.2,365.4 1889.9,368.0 C1886.6,370.5 1884.7,377.6 1881.0,378.7 C1877.3,379.7 1871.3,374.8 1867.9,374.1 C1864.5,373.4 1862.5,376.0 1860.7,374.6 C1858.8,373.3 1859.7,367.9 1856.7,366.2 C1853.8,364.4 1845.2,366.2 1842.8,364.2 C1840.4,362.2 1842.0,357.1 1842.5,354.3 C1842.9,351.5 1844.0,349.7 1845.6,347.3 C1847.3,345.0 1849.7,341.4 1852.2,340.0 C1854.8,338.7 1858.3,340.6 1861.1,339.2 C1864.0,337.9 1866.3,331.9 1869.4,331.9 C1872.4,331.8 1875.3,338.3 1879.3,339.0 C1883.3,339.7 1891.2,334.5 1893.5,336.0 C1895.8,337.5 1891.1,345.0 1893.2,347.9 C1895.2,350.8 1903.7,352.5 1905.8,353.4 Z" fill="#f1f3f0"/>
<path d="M2016.7,369.3 C2018.6,370.2 2027.5,373.2 2028.1,374.8 C2028.7,376.5 2023.8,378.0 2020.4,379.1 C2017.1,380.1 2011.1,380.4 2008.0,381.3 C2004.9,382.1 2004.9,384.4 2001.8,384.2 C1998.7,384.0 1991.9,381.3 1989.4,380.0 C1986.9,378.7 1989.0,377.4 1986.8,376.5 C1984.6,375.6 1978.4,375.4 1976.0,374.5 C1973.5,373.6 1971.0,372.7 1972.3,371.3 C1973.5,370.0 1981.0,367.5 1983.5,366.4 C1985.9,365.3 1985.7,366.3 1987.0,364.6 C1988.4,363.0 1989.1,357.6 1991.5,356.5 C1993.9,355.4 1999.2,357.1 2001.6,358.0 C2003.9,358.8 2002.6,361.3 2005.6,361.6 C2008.7,361.9 2017.7,359.2 2019.7,360.0 C2021.7,360.7 2018.0,364.6 2017.5,366.1 C2017.0,367.7 2016.9,368.7 2016.7,369.3 Z" fill="#f1f3f0"/>
<path d="M1663.0,200.1 C1663.0,200.6 1663.0,201.7 1663.1,203.3 C1663.2,204.9 1664.6,208.4 1663.6,209.8 C1662.6,211.3 1659.3,212.0 1657.1,212.2 C1654.9,212.3 1653.1,210.7 1650.6,210.7 C1648.0,210.7 1643.4,212.8 1641.7,212.2 C1640.1,211.7 1641.3,208.8 1640.7,207.4 C1640.1,206.1 1638.7,205.4 1638.2,204.2 C1637.6,202.9 1638.2,201.4 1637.2,199.7 C1636.3,198.1 1632.4,195.9 1632.6,194.4 C1632.9,192.8 1636.8,191.2 1638.8,190.6 C1640.8,190.0 1642.8,190.9 1644.8,190.8 C1646.7,190.7 1648.8,189.9 1650.5,189.7 C1652.3,189.5 1654.2,189.0 1655.4,189.7 C1656.6,190.3 1655.7,193.0 1657.6,193.8 C1659.5,194.5 1665.8,192.9 1666.7,194.0 C1667.6,195.0 1663.6,199.1 1663.0,200.1 Z" fill="#f1f3f0"/>
<path d="M1463.6,220.7 C1463.8,221.1 1465.6,222.4 1464.7,223.5 C1463.7,224.6 1459.5,226.0 1458.1,227.3 C1456.7,228.6 1457.3,230.8 1456.1,231.4 C1454.9,231.9 1452.9,230.4 1450.8,230.7 C1448.7,231.0 1446.0,233.1 1443.6,232.9 C1441.3,232.7 1437.9,231.0 1436.8,229.4 C1435.7,227.9 1437.5,225.3 1436.9,223.6 C1436.3,221.9 1433.2,220.4 1433.3,219.1 C1433.4,217.8 1437.1,217.4 1437.4,215.9 C1437.8,214.3 1434.3,211.5 1435.3,209.8 C1436.3,208.1 1441.0,205.7 1443.4,205.9 C1445.7,206.0 1446.7,210.7 1449.4,210.7 C1452.1,210.8 1457.4,206.0 1459.5,206.2 C1461.7,206.4 1461.9,210.1 1462.2,211.9 C1462.5,213.6 1461.1,215.2 1461.3,216.6 C1461.6,218.1 1463.3,220.0 1463.6,220.7 Z" fill="#f1f3f0"/>
<path d="M1781.9,330.5 C1780.7,331.1 1777.0,332.1 1775.1,333.7 C1773.2,335.3 1771.8,338.3 1770.4,340.1 C1769.0,341.8 1768.8,343.2 1766.7,344.5 C1764.6,345.8 1760.0,348.2 1757.9,347.7 C1755.9,347.3 1756.8,342.5 1754.4,341.9 C1752.0,341.3 1746.2,345.3 1743.5,344.2 C1740.7,343.1 1738.8,337.5 1737.8,335.4 C1736.8,333.2 1737.4,333.2 1737.4,331.2 C1737.4,329.3 1736.0,325.3 1737.8,323.6 C1739.5,322.0 1746.0,323.1 1747.9,321.1 C1749.7,319.2 1747.1,312.7 1749.0,312.1 C1750.9,311.5 1756.4,316.9 1759.2,317.6 C1762.0,318.4 1763.5,316.0 1765.6,316.6 C1767.6,317.1 1768.3,319.7 1771.4,320.7 C1774.5,321.7 1782.5,320.9 1784.2,322.6 C1786.0,324.2 1782.3,329.2 1781.9,330.5 Z" fill="#f1f3f0"/>
<path d="M1435.8,421.7 C1435.7,422.5 1436.2,425.0 1435.4,426.1 C1434.6,427.3 1432.9,428.4 1431.2,428.7 C1429.5,429.0 1426.9,428.4 1425.2,428.0 C1423.6,427.6 1422.1,427.2 1421.3,426.3 C1420.5,425.3 1420.2,424.0 1420.3,422.5 C1420.3,421.0 1420.8,418.4 1421.8,417.2 C1422.8,416.0 1424.7,415.5 1426.0,415.2 C1427.4,414.8 1428.4,414.9 1429.9,415.2 C1431.4,415.5 1434.2,415.9 1435.1,417.0 C1436.1,418.0 1435.7,420.9 1435.8,421.7 Z" fill="#d3d8dc"/>
<path d="M1348.0,205.0 C1352.2,208.8 1365.2,222.1 1373.3,228.1 C1381.3,234.1 1391.9,234.1 1396.4,240.7 C1401.0,247.4 1397.8,262.5 1400.6,268.1 C1403.5,273.7 1408.0,267.4 1413.3,274.4 C1418.5,281.5 1422.1,301.1 1432.2,310.2 C1442.4,319.4 1461.0,323.6 1474.3,329.2 C1487.7,334.8 1498.2,341.1 1512.2,343.9 C1526.3,346.7 1543.8,348.5 1558.6,346.0 C1573.3,343.6 1586.6,333.4 1600.7,329.2 C1614.7,325.0 1625.3,317.6 1642.8,320.8 C1660.3,323.9 1694.1,343.4 1706.0,348.1 C1717.8,352.9 1712.6,349.0 1714.0,349.2" fill="none" stroke="#e3e4e4" stroke-width="1.5" stroke-linecap="round" stroke-linejoin="round"/>
<path d="M1518.6,186.0 C1518.6,189.5 1517.2,200.0 1518.6,207.1 C1520.0,214.1 1526.6,221.8 1527.0,228.1 C1527.3,234.4 1519.6,237.9 1520.7,245.0 C1521.7,252.0 1530.8,262.5 1533.3,270.2 C1535.8,277.9 1536.8,283.6 1535.4,291.3 C1534.0,299.0 1528.0,307.8 1524.9,316.6 C1521.7,325.3 1516.5,334.1 1516.5,343.9 C1516.5,353.8 1523.5,363.2 1524.9,375.5 C1526.3,387.8 1525.6,403.6 1524.9,417.6 C1524.2,431.7 1521.7,447.7 1520.7,459.7 C1519.6,471.8 1518.9,485.0 1518.6,490.1" fill="none" stroke="#e3e4e4" stroke-width="1.5" stroke-linecap="round" stroke-linejoin="round"/>
<path d="M1348.0,417.6 C1352.2,420.8 1366.2,430.3 1373.3,436.6 C1380.3,442.9 1380.3,449.9 1390.1,455.5 C1399.9,461.1 1416.4,467.5 1432.2,470.3 C1448.0,473.1 1467.3,473.1 1484.9,472.4 C1502.4,471.7 1518.2,466.4 1537.5,466.1 C1556.8,465.7 1581.7,468.2 1600.7,470.3 C1619.6,472.4 1632.3,477.6 1651.2,478.7 C1670.1,479.7 1703.5,476.9 1714.0,476.6" fill="none" stroke="#e3e4e4" stroke-width="1.5" stroke-linecap="round" stroke-linejoin="round"/>
<path d="M1714.0,343.9 C1716.8,341.5 1723.8,333.0 1730.8,329.2 C1737.9,325.3 1748.4,321.8 1756.1,320.8 C1763.8,319.7 1770.9,320.8 1777.2,322.9 C1783.5,325.0 1789.8,328.8 1794.0,333.4 C1798.2,338.0 1798.2,345.0 1802.4,350.2 C1806.7,355.5 1813.0,360.8 1819.3,365.0 C1825.6,369.2 1833.3,373.1 1840.3,375.5 C1847.4,378.0 1850.9,380.8 1861.4,379.7 C1871.9,378.7 1891.2,372.4 1903.5,369.2 C1915.8,366.0 1926.3,366.7 1935.1,360.8 C1943.9,354.8 1949.1,341.5 1956.2,333.4 C1963.2,325.3 1971.9,317.3 1977.2,312.3 C1982.5,307.4 1982.5,310.2 1987.7,303.9 C1993.0,297.6 2000.0,286.4 2008.8,274.4 C2017.6,262.5 2028.5,243.6 2040.4,232.3 C2052.2,221.1 2073.4,211.3 2080.0,207.1" fill="none" stroke="#e3e4e4" stroke-width="1.5" stroke-linecap="round" stroke-linejoin="round"/>
<path d="M1916.1,186.0 C1921.1,193.0 1935.5,211.3 1945.6,228.1 C1955.8,245.0 1970.5,274.4 1977.2,287.1 C1983.9,299.7 1985.6,296.2 1985.6,303.9 C1985.6,311.6 1976.9,325.0 1977.2,333.4 C1977.6,341.8 1986.3,345.7 1987.7,354.5 C1989.1,363.2 1986.0,380.8 1985.6,386.0" fill="none" stroke="#e3e4e4" stroke-width="1.5" stroke-linecap="round" stroke-linejoin="round"/>
<path d="M1876.1,186.0 C1876.1,195.8 1873.3,230.9 1876.1,245.0 C1878.9,259.0 1884.9,262.5 1893.0,270.2 C1901.1,277.9 1912.3,284.3 1924.6,291.3 C1936.9,298.3 1956.5,308.8 1966.7,312.3 C1976.9,315.9 1982.5,312.3 1985.6,312.3" fill="none" stroke="#e3e4e4" stroke-width="1.5" stroke-linecap="round" stroke-linejoin="round"/>
<path d="M1730.8,329.2 C1731.5,325.0 1727.3,313.0 1735.1,303.9 C1742.8,294.8 1763.1,282.5 1777.2,274.4 C1791.2,266.4 1805.2,258.3 1819.3,255.5 C1833.3,252.7 1854.4,257.2 1861.4,257.6" fill="none" stroke="#e3e4e4" stroke-width="1.5" stroke-linecap="round" stroke-linejoin="round"/>
<path d="M1714.0,417.6 C1717.5,416.9 1728.0,412.4 1735.1,413.4 C1742.1,414.5 1742.1,422.5 1756.1,423.9 C1770.2,425.3 1798.2,422.5 1819.3,421.8 C1840.3,421.1 1864.9,420.4 1882.5,419.7 C1900.0,419.0 1917.6,418.0 1924.6,417.6" fill="none" stroke="#e3e4e4" stroke-width="1.5" stroke-linecap="round" stroke-linejoin="round"/>
<path d="M1348.0,300.0 C1353.3,303.3 1371.3,310.0 1380.0,320.0 C1388.7,330.0 1393.3,348.3 1400.0,360.0 C1406.7,371.7 1416.7,385.0 1420.0,390.0" fill="none" stroke="#e3e4e4" stroke-width="1.5" stroke-linecap="round" stroke-linejoin="round"/>
<path d="M1560.0,480.0 C1563.3,486.7 1575.0,506.7 1580.0,520.0 C1585.0,533.3 1586.7,546.7 1590.0,560.0 C1593.3,573.3 1598.3,593.3 1600.0,600.0" fill="none" stroke="#e3e4e4" stroke-width="1.5" stroke-linecap="round" stroke-linejoin="round"/>
<path d="M1640.0,480.0 C1641.7,486.7 1646.7,510.0 1650.0,520.0 C1653.3,530.0 1658.3,536.7 1660.0,540.0" fill="none" stroke="#e3e4e4" stroke-width="1.5" stroke-linecap="round" stroke-linejoin="round"/>
<polyline points="1512.2,348.1 1508.1,352.9 1503.4,357.3 1499.2,362.0 1495.4,367.1 1489.7,372.3 1482.8,375.5 1484.9,383.9 1479.4,389.5 1472.5,392.7 1465.9,396.6 1460.8,402.7 1454.0,407.1 1449.1,413.4 1445.4,419.5 1442.5,425.9 1439.4,432.3 1436.4,438.7 1433.8,447.0 1432.2,455.5 1430.0,461.4 1425.9,466.1 1423.5,472.1 1421.6,478.5 1416.8,483.5 1415.4,490.1" fill="none" stroke="#c6d0d9" stroke-width="1.3" stroke-linecap="round" stroke-linejoin="round"/>
<polyline points="1421.8,470.0 1418.0,477.1 1412.9,483.4 1410.1,489.9 1407.8,496.7 1405.1,503.2 1403.9,510.3 1403.8,517.1 1402.5,523.8 1401.7,530.6 1399.5,537.1 1394.8,542.3 1388.5,545.5 1383.8,550.5 1383.8,557.4 1381.5,563.9 1381.3,570.8 1379.3,577.4 1383.6,583.0 1387.0,589.2 1390.5,595.3 1388.0,602.5 1387.2,610.1 1386.0,617.7 1392.7,624.4" fill="none" stroke="#c6d0d9" stroke-width="1.3" stroke-linecap="round" stroke-linejoin="round"/>
<polyline points="1609.1,373.4 1616.2,373.8 1622.6,377.2 1629.5,378.6 1636.5,379.7 1635.6,386.7 1638.3,393.4 1638.8,400.2 1638.6,407.1 1638.9,413.5 1640.7,419.7 1630.2,422.9" fill="none" stroke="#c6d0d9" stroke-width="1.3" stroke-linecap="round" stroke-linejoin="round"/>
<polyline points="1623.8,438.7 1623.8,445.3 1628.2,451.0 1628.1,457.6 1635.6,459.8 1643.7,459.4 1651.2,461.8 1661.8,466.1" fill="none" stroke="#c6d0d9" stroke-width="1.3" stroke-linecap="round" stroke-linejoin="round"/>
<polyline points="1714.0,383.9 1713.4,390.1 1712.0,396.1 1711.2,402.1 1710.1,408.2 1709.3,414.3 1707.5,420.2 1707.7,426.4 1706.0,432.4 1714.0,438.7" fill="none" stroke="#c6d0d9" stroke-width="1.3" stroke-linecap="round" stroke-linejoin="round"/>
<polyline points="1994.1,217.6 2000.0,219.4 2005.7,222.0 2011.5,224.3 2018.1,224.0 2023.6,227.2 2029.9,228.1 2036.1,228.8 2042.4,228.6 2048.6,226.9 2054.9,226.6 2061.2,227.7 2067.4,228.9 2073.7,227.3 2080.0,228.1" fill="none" stroke="#c6d0d9" stroke-width="1.3" stroke-linecap="round" stroke-linejoin="round"/>
<polyline points="1726.6,331.3 1730.2,336.7 1731.4,343.1 1735.0,348.4 1737.2,354.5 1734.5,360.6 1730.2,365.7 1726.6,371.3 1722.4,376.2 1718.3,381.2 1714.0,386.0" fill="none" stroke="#c6d0d9" stroke-width="1.3" stroke-linecap="round" stroke-linejoin="round"/>
<polyline points="1876.1,379.7 1883.1,379.2 1890.0,378.5 1896.7,376.6 1903.5,375.5 1909.8,378.1 1916.3,380.3 1921.9,384.6 1929.0,385.0 1935.1,388.1 1936.2,394.5 1935.9,400.8 1935.1,407.1 1945.6,409.2" fill="none" stroke="#c6d0d9" stroke-width="1.3" stroke-linecap="round" stroke-linejoin="round"/>
<polyline points="1714.0,449.2 1719.9,452.6 1726.6,453.4 1732.7,456.6 1738.9,459.5 1745.1,462.5 1751.9,464.0" fill="none" stroke="#c6d0d9" stroke-width="1.3" stroke-linecap="round" stroke-linejoin="round"/>
<path d="M1347,624.4 L1370.4,628.8 L1392.7,626.6 L1415,635.5 L1442,646.7 L1459.9,658 L1473.3,668 L1493.4,673.6 L1527,674.7 L1549.3,670.2 L1556,660 L1562.8,646.7 L1571.7,636.7 L1589.6,620 L1616.5,595.3 L1638.8,570.7 L1652,555 L1661.2,539.4 L1672.4,514.7 L1690.3,496.8 L1714,485.7 L1756,466 L1798,453.4 L1861,443 L1925,419.7 L1967,412.4 L2030,405 L2061,390.3 L2081,386 L2081,794 L1347,794 Z" fill="#d5d9dc"/>
<text x="1850" y="262" class="lb">Battle</text>
<text x="1501.2" y="384.8" class="lb">Hailsham</text>
<text x="1981" y="406.7" class="lb">Hastings</text>
<text x="1788.3" y="437.2" class="lb">Bexhill-on-Sea</text>
<text x="1485.6" y="482" class="lb">Polegate</text>
<text x="1519.6" y="614" class="lb">Eastbourne</text>
<text x="1281" y="600" class="lb">Seaford</text>
<g><path d="M1533.00,359.50 L1522.88,347.63 A13.3,13.3 0 1 1 1543.12,347.63 Z" transform="translate(2,3.5)" fill="rgba(0,0,0,0.4)" stroke="rgba(0,0,0,0.4)" stroke-width="6" stroke-linejoin="miter" filter="url(#blur)"/><path d="M1533.00,359.50 L1522.88,347.63 A13.3,13.3 0 1 1 1543.12,347.63 Z" fill="#4d9be4" stroke="#fff" stroke-width="6" stroke-linejoin="miter" stroke-miterlimit="6" paint-order="stroke"/><circle cx="1533" cy="339" r="5.4" fill="#fff"/></g>
<g><path d="M1606.00,370.10 L1595.88,358.23 A13.3,13.3 0 1 1 1616.12,358.23 Z" transform="translate(2,3.5)" fill="rgba(0,0,0,0.4)" stroke="rgba(0,0,0,0.4)" stroke-width="6" stroke-linejoin="miter" filter="url(#blur)"/><path d="M1606.00,370.10 L1595.88,358.23 A13.3,13.3 0 1 1 1616.12,358.23 Z" fill="#4d9be4" stroke="#fff" stroke-width="6" stroke-linejoin="miter" stroke-miterlimit="6" paint-order="stroke"/><circle cx="1606" cy="349.6" r="5.4" fill="#fff"/></g>
<g><path d="M1859.70,414.70 L1849.58,402.83 A13.3,13.3 0 1 1 1869.82,402.83 Z" transform="translate(2,3.5)" fill="rgba(0,0,0,0.4)" stroke="rgba(0,0,0,0.4)" stroke-width="6" stroke-linejoin="miter" filter="url(#blur)"/><path d="M1859.70,414.70 L1849.58,402.83 A13.3,13.3 0 1 1 1869.82,402.83 Z" fill="#4d9be4" stroke="#fff" stroke-width="6" stroke-linejoin="miter" stroke-miterlimit="6" paint-order="stroke"/><circle cx="1859.7" cy="394.2" r="5.4" fill="#fff"/></g>
<g><path d="M1672.00,482.30 L1661.88,470.43 A13.3,13.3 0 1 1 1682.12,470.43 Z" transform="translate(2,3.5)" fill="rgba(0,0,0,0.4)" stroke="rgba(0,0,0,0.4)" stroke-width="6" stroke-linejoin="miter" filter="url(#blur)"/><path d="M1672.00,482.30 L1661.88,470.43 A13.3,13.3 0 1 1 1682.12,470.43 Z" fill="#4d9be4" stroke="#fff" stroke-width="6" stroke-linejoin="miter" stroke-miterlimit="6" paint-order="stroke"/><circle cx="1672" cy="461.8" r="5.4" fill="#fff"/></g>
<g><path d="M1630.70,526.80 L1620.58,514.93 A13.3,13.3 0 1 1 1640.82,514.93 Z" transform="translate(2,3.5)" fill="rgba(0,0,0,0.4)" stroke="rgba(0,0,0,0.4)" stroke-width="6" stroke-linejoin="miter" filter="url(#blur)"/><path d="M1630.70,526.80 L1620.58,514.93 A13.3,13.3 0 1 1 1640.82,514.93 Z" fill="#4d9be4" stroke="#fff" stroke-width="6" stroke-linejoin="miter" stroke-miterlimit="6" paint-order="stroke"/><circle cx="1630.7" cy="506.3" r="5.4" fill="#fff"/></g>
<g><path d="M1581.70,531.10 L1571.58,519.23 A13.3,13.3 0 1 1 1591.82,519.23 Z" transform="translate(2,3.5)" fill="rgba(0,0,0,0.4)" stroke="rgba(0,0,0,0.4)" stroke-width="6" stroke-linejoin="miter" filter="url(#blur)"/><path d="M1581.70,531.10 L1571.58,519.23 A13.3,13.3 0 1 1 1591.82,519.23 Z" fill="#4d9be4" stroke="#fff" stroke-width="6" stroke-linejoin="miter" stroke-miterlimit="6" paint-order="stroke"/><circle cx="1581.7" cy="510.6" r="5.4" fill="#fff"/></g>
<g><path d="M1541.80,549.10 L1531.68,537.23 A13.3,13.3 0 1 1 1551.92,537.23 Z" transform="translate(2,3.5)" fill="rgba(0,0,0,0.4)" stroke="rgba(0,0,0,0.4)" stroke-width="6" stroke-linejoin="miter" filter="url(#blur)"/><path d="M1541.80,549.10 L1531.68,537.23 A13.3,13.3 0 1 1 1551.92,537.23 Z" fill="#4d9be4" stroke="#fff" stroke-width="6" stroke-linejoin="miter" stroke-miterlimit="6" paint-order="stroke"/><circle cx="1541.8" cy="528.6" r="5.4" fill="#fff"/></g>
<g><path d="M1630.70,548.30 L1620.58,536.43 A13.3,13.3 0 1 1 1640.82,536.43 Z" transform="translate(2,3.5)" fill="rgba(0,0,0,0.4)" stroke="rgba(0,0,0,0.4)" stroke-width="6" stroke-linejoin="miter" filter="url(#blur)"/><path d="M1630.70,548.30 L1620.58,536.43 A13.3,13.3 0 1 1 1640.82,536.43 Z" fill="#4d9be4" stroke="#fff" stroke-width="6" stroke-linejoin="miter" stroke-miterlimit="6" paint-order="stroke"/><circle cx="1630.7" cy="527.8" r="5.4" fill="#fff"/></g>
<g><path d="M1615.20,577.50 L1605.08,565.63 A13.3,13.3 0 1 1 1625.32,565.63 Z" transform="translate(2,3.5)" fill="rgba(0,0,0,0.4)" stroke="rgba(0,0,0,0.4)" stroke-width="6" stroke-linejoin="miter" filter="url(#blur)"/><path d="M1615.20,577.50 L1605.08,565.63 A13.3,13.3 0 1 1 1625.32,565.63 Z" fill="#4d9be4" stroke="#fff" stroke-width="6" stroke-linejoin="miter" stroke-miterlimit="6" paint-order="stroke"/><circle cx="1615.2" cy="557" r="5.4" fill="#fff"/></g>
<g><path d="M1598.50,592.10 L1588.38,580.23 A13.3,13.3 0 1 1 1608.62,580.23 Z" transform="translate(2,3.5)" fill="rgba(0,0,0,0.4)" stroke="rgba(0,0,0,0.4)" stroke-width="6" stroke-linejoin="miter" filter="url(#blur)"/><path d="M1598.50,592.10 L1588.38,580.23 A13.3,13.3 0 1 1 1608.62,580.23 Z" fill="#4d9be4" stroke="#fff" stroke-width="6" stroke-linejoin="miter" stroke-miterlimit="6" paint-order="stroke"/><circle cx="1598.5" cy="571.6" r="5.4" fill="#fff"/></g>
  </svg>
</div>
</body></html>
